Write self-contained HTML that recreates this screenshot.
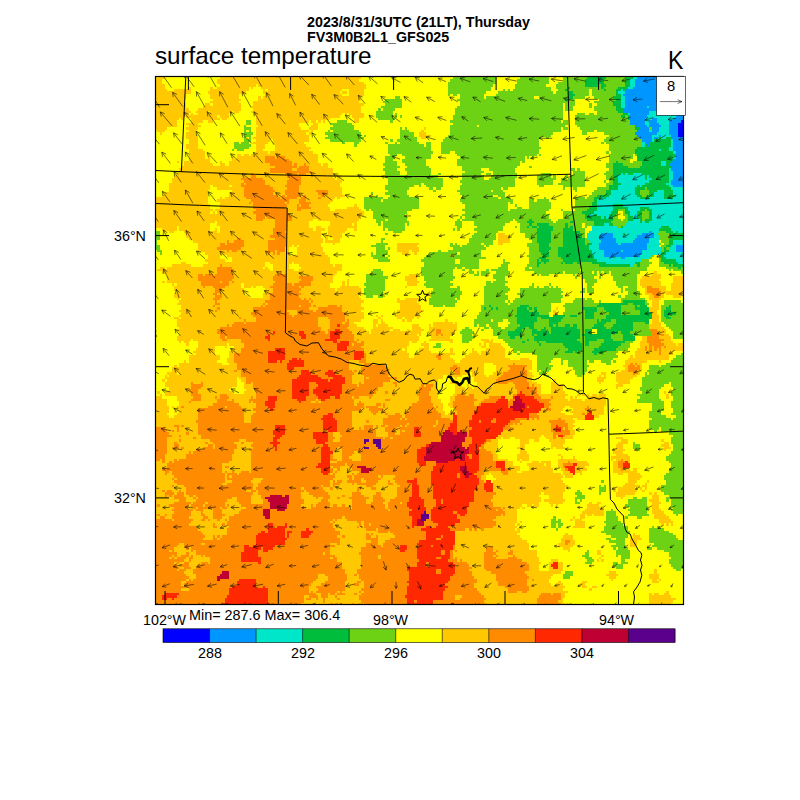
<!DOCTYPE html>
<html><head><meta charset="utf-8"><title>surface temperature</title>
<style>
html,body{margin:0;padding:0;background:#fff;}
body{width:800px;height:800px;position:relative;overflow:hidden;font-family:"Liberation Sans",sans-serif;color:#000;}
.t{position:absolute;white-space:nowrap;line-height:1;}
svg{position:absolute;left:0;top:0;}
</style></head><body>
<svg width="800" height="800" viewBox="0 0 800 800">
<g shape-rendering="crispEdges" fill="none" stroke-width="1"><rect x="155" y="76" width="529" height="529" fill="#ffff00"/>
<g transform="translate(155,77) scale(2.4)">
<rect x="0" y="0" width="220" height="220" fill="#ffff00"/>
<path d="M0 0.5h4M27 0.5h59M0 1.5h3M26 1.5h59M0 2.5h3M26 2.5h61M0 3.5h4M27 3.5h15M43 3.5h45M0 4.5h4M14 4.5h1M23 4.5h1M26 4.5h13M40 4.5h1M44 4.5h44M0 5.5h5M8 5.5h7M23 5.5h16M45 5.5h1M47 5.5h31M81 5.5h6M0 6.5h15M22 6.5h16M45 6.5h32M78 6.5h2M81 6.5h6M0 7.5h13M23 7.5h12M46 7.5h32M81 7.5h6M0 8.5h13M23 8.5h12M43 8.5h1M45 8.5h41M0 9.5h12M24 9.5h12M43 9.5h43M0 10.5h12M23 10.5h12M41 10.5h44M0 11.5h13M21 11.5h2M24 11.5h12M41 11.5h46M0 12.5h13M20 12.5h16M40 12.5h46M0 13.5h14M18 13.5h18M41 13.5h45M0 14.5h15M17 14.5h5M23 14.5h9M33 14.5h2M40 14.5h46M0 15.5h14M15 15.5h1M18 15.5h13M41 15.5h37M79 15.5h1M81 15.5h6M0 16.5h12M13 16.5h13M27 16.5h4M42 16.5h35M82 16.5h5M0 17.5h10M11 17.5h1M15 17.5h12M28 17.5h2M42 17.5h31M83 17.5h2M0 18.5h9M15 18.5h5M22 18.5h2M42 18.5h22M65 18.5h2M68 18.5h1M70 18.5h1M83 18.5h2M0 19.5h9M13 19.5h5M42 19.5h18M66 19.5h2M0 20.5h9M14 20.5h5M43 20.5h17M65 20.5h3M0 21.5h5M13 21.5h5M42 21.5h19M64 21.5h4M112 21.5h1M1 22.5h3M14 22.5h3M42 22.5h22M65 22.5h1M111 22.5h1M2 23.5h1M13 23.5h4M42 23.5h21M64 23.5h1M110 23.5h3M13 24.5h5M42 24.5h22M110 24.5h4M13 25.5h5M41 25.5h23M111 25.5h2M14 26.5h4M42 26.5h6M49 26.5h15M14 27.5h4M41 27.5h6M49 27.5h13M13 28.5h5M42 28.5h4M50 28.5h13M13 29.5h5M42 29.5h4M50 29.5h15M14 30.5h6M42 30.5h3M50 30.5h14M14 31.5h7M42 31.5h5M48 31.5h18M14 32.5h7M34 32.5h2M37 32.5h2M40 32.5h28M14 33.5h7M22 33.5h1M32 33.5h1M34 33.5h34M14 34.5h9M32 34.5h36M9 35.5h1M12 35.5h11M27 35.5h1M31 35.5h37M12 36.5h12M27 36.5h2M31 36.5h38M70 36.5h2M11 37.5h61M10 38.5h64M9 39.5h65M9 40.5h65M8 41.5h66M76 41.5h2M7 42.5h68M76 42.5h1M7 43.5h71M6 44.5h71M6 45.5h17M24 45.5h7M32 45.5h45M6 46.5h17M26 46.5h52M6 47.5h16M32 47.5h46M4 48.5h18M31 48.5h47M3 49.5h19M31 49.5h48M0 50.5h22M27 50.5h1M29 50.5h46M76 50.5h1M0 51.5h22M26 51.5h48M0 52.5h22M27 52.5h46M0 53.5h23M27 53.5h45M83 53.5h1M0 54.5h23M27 54.5h46M80 54.5h5M0 55.5h24M25 55.5h48M75 55.5h11M0 56.5h23M24 56.5h1M26 56.5h61M0 57.5h87M0 58.5h86M0 59.5h66M68 59.5h17M0 60.5h25M26 60.5h38M73 60.5h11M0 61.5h23M26 61.5h38M73 61.5h9M83 61.5h1M0 62.5h9M10 62.5h13M27 62.5h37M67 62.5h2M72 62.5h12M3 63.5h6M10 63.5h13M25 63.5h1M27 63.5h39M67 63.5h4M72 63.5h8M83 63.5h1M6 64.5h2M12 64.5h14M27 64.5h42M72 64.5h7M13 65.5h57M72 65.5h6M143 65.5h3M13 66.5h56M71 66.5h1M73 66.5h5M143 66.5h5M14 67.5h56M71 67.5h1M74 67.5h3M143 67.5h5M16 68.5h54M71 68.5h6M143 68.5h5M18 69.5h51M74 69.5h1M101 69.5h9M143 69.5h2M18 70.5h39M58 70.5h1M60 70.5h9M101 70.5h8M18 71.5h38M59 71.5h11M101 71.5h9M18 72.5h38M59 72.5h11M101 72.5h5M107 72.5h3M21 73.5h35M59 73.5h12M103 73.5h3M108 73.5h1M22 74.5h5M30 74.5h26M57 74.5h15M22 75.5h5M32 75.5h41M21 76.5h8M32 76.5h41M11 77.5h2M22 77.5h24M48 77.5h9M58 77.5h15M7 78.5h8M20 78.5h26M49 78.5h7M60 78.5h14M75 78.5h3M2 79.5h2M5 79.5h40M46 79.5h1M49 79.5h7M61 79.5h17M1 80.5h47M49 80.5h9M60 80.5h18M3 81.5h73M208 81.5h1M5 82.5h70M79 82.5h1M106 82.5h3M204 82.5h1M207 82.5h4M5 83.5h69M104 83.5h5M203 83.5h8M216 83.5h4M5 84.5h69M80 84.5h1M104 84.5h5M202 84.5h8M216 84.5h4M3 85.5h1M5 85.5h69M78 85.5h1M80 85.5h1M105 85.5h5M202 85.5h9M216 85.5h4M7 86.5h1M9 86.5h27M37 86.5h36M78 86.5h1M80 86.5h1M105 86.5h4M202 86.5h9M215 86.5h5M8 87.5h28M37 87.5h3M41 87.5h1M45 87.5h28M77 87.5h8M104 87.5h1M203 87.5h10M215 87.5h5M8 88.5h29M46 88.5h29M76 88.5h10M204 88.5h9M215 88.5h5M9 89.5h28M38 89.5h1M46 89.5h40M204 89.5h16M8 90.5h29M45 90.5h41M204 90.5h8M213 90.5h7M8 91.5h31M45 91.5h40M206 91.5h6M216 91.5h3M9 92.5h1M11 92.5h75M101 92.5h1M104 92.5h6M206 92.5h5M10 93.5h77M101 93.5h8M207 93.5h3M9 94.5h77M102 94.5h8M207 94.5h3M11 95.5h75M102 95.5h9M207 95.5h3M11 96.5h76M102 96.5h9M167 96.5h1M206 96.5h4M10 97.5h76M101 97.5h11M166 97.5h1M206 97.5h3M11 98.5h76M101 98.5h9M166 98.5h2M207 98.5h2M10 99.5h77M92 99.5h1M94 99.5h1M100 99.5h11M207 99.5h3M8 100.5h2M11 100.5h76M93 100.5h1M101 100.5h2M104 100.5h4M109 100.5h1M207 100.5h3M9 101.5h77M91 101.5h2M94 101.5h1M103 101.5h1M105 101.5h2M121 101.5h1M207 101.5h3M9 102.5h74M91 102.5h2M94 102.5h2M116 102.5h8M125 102.5h1M207 102.5h4M9 103.5h75M91 103.5h1M93 103.5h4M107 103.5h3M114 103.5h1M116 103.5h10M206 103.5h5M10 104.5h77M91 104.5h8M107 104.5h4M114 104.5h12M206 104.5h6M9 105.5h79M90 105.5h8M99 105.5h3M105 105.5h1M107 105.5h5M114 105.5h12M206 105.5h7M10 106.5h79M90 106.5h21M114 106.5h11M207 106.5h6M10 107.5h99M110 107.5h1M114 107.5h10M207 107.5h7M9 108.5h101M115 108.5h8M203 108.5h12M9 109.5h6M16 109.5h94M114 109.5h10M136 109.5h3M140 109.5h1M203 109.5h12M10 110.5h1M12 110.5h2M18 110.5h88M107 110.5h2M112 110.5h1M123 110.5h1M137 110.5h4M202 110.5h14M13 111.5h1M18 111.5h12M31 111.5h75M111 111.5h3M135 111.5h1M137 111.5h1M139 111.5h5M202 111.5h15M218 111.5h2M18 112.5h7M29 112.5h1M33 112.5h72M112 112.5h2M136 112.5h2M139 112.5h6M202 112.5h18M17 113.5h8M32 113.5h71M104 113.5h1M110 113.5h4M123 113.5h1M132 113.5h1M138 113.5h8M201 113.5h19M16 114.5h9M31 114.5h74M110 114.5h5M123 114.5h1M132 114.5h2M136 114.5h10M200 114.5h16M17 115.5h8M31 115.5h75M109 115.5h16M131 115.5h4M136 115.5h10M200 115.5h16M14 116.5h13M31 116.5h75M108 116.5h15M129 116.5h17M198 116.5h1M200 116.5h14M14 117.5h13M30 117.5h94M128 117.5h20M152 117.5h4M197 117.5h17M12 118.5h1M14 118.5h12M30 118.5h95M127 118.5h30M196 118.5h9M210 118.5h1M10 119.5h18M31 119.5h106M141 119.5h16M196 119.5h7M8 120.5h1M10 120.5h127M142 120.5h15M195 120.5h8M7 121.5h130M142 121.5h15M196 121.5h7M7 122.5h130M142 122.5h14M194 122.5h9M5 123.5h4M10 123.5h121M132 123.5h5M141 123.5h16M186 123.5h2M192 123.5h10M4 124.5h1M6 124.5h114M123 124.5h5M132 124.5h6M139 124.5h19M185 124.5h1M187 124.5h1M192 124.5h9M4 125.5h30M35 125.5h85M125 125.5h1M133 125.5h24M184 125.5h4M192 125.5h7M3 126.5h1M5 126.5h29M36 126.5h82M124 126.5h1M133 126.5h24M166 126.5h1M184 126.5h3M192 126.5h6M4 127.5h30M37 127.5h81M123 127.5h3M127 127.5h1M134 127.5h25M165 127.5h2M185 127.5h1M193 127.5h5M4 128.5h30M37 128.5h81M125 128.5h3M130 128.5h1M134 128.5h27M165 128.5h5M192 128.5h3M6 129.5h26M37 129.5h81M125 129.5h4M130 129.5h2M133 129.5h28M165 129.5h5M192 129.5h1M6 130.5h25M38 130.5h80M125 130.5h36M165 130.5h5M1 131.5h1M4 131.5h29M37 131.5h81M125 131.5h36M165 131.5h6M212 131.5h1M2 132.5h1M4 132.5h114M124 132.5h48M176 132.5h1M178 132.5h1M180 132.5h1M182 132.5h2M185 132.5h3M213 132.5h1M0 133.5h3M9 133.5h109M123 133.5h48M173 133.5h1M175 133.5h1M180 133.5h8M213 133.5h1M0 134.5h5M9 134.5h110M123 134.5h49M173 134.5h5M179 134.5h9M0 135.5h5M10 135.5h109M123 135.5h65M0 136.5h5M10 136.5h110M122 136.5h66M0 137.5h6M7 137.5h1M9 137.5h111M123 137.5h48M173 137.5h14M0 138.5h6M9 138.5h111M124 138.5h46M174 138.5h13M0 139.5h6M8 139.5h1M10 139.5h111M123 139.5h46M173 139.5h14M0 140.5h5M9 140.5h112M122 140.5h49M174 140.5h13M0 141.5h6M8 141.5h177M0 142.5h174M176 142.5h7M0 143.5h175M0 144.5h174M0 145.5h175M0 146.5h174M0 147.5h175M0 148.5h175M0 149.5h161M162 149.5h12M0 150.5h144M145 150.5h3M150 150.5h10M163 150.5h11M192 150.5h3M0 151.5h143M152 151.5h4M158 151.5h2M164 151.5h7M194 151.5h3M211 151.5h1M0 152.5h143M152 152.5h4M165 152.5h6M193 152.5h4M212 152.5h2M0 153.5h143M152 153.5h2M165 153.5h5M192 153.5h3M211 153.5h3M0 154.5h143M151 154.5h3M165 154.5h1M167 154.5h4M192 154.5h3M212 154.5h3M0 155.5h142M152 155.5h2M191 155.5h5M212 155.5h1M0 156.5h142M152 156.5h3M191 156.5h4M0 157.5h143M151 157.5h5M168 157.5h1M192 157.5h5M0 158.5h143M151 158.5h5M169 158.5h1M174 158.5h1M190 158.5h8M0 159.5h147M151 159.5h1M153 159.5h3M168 159.5h8M190 159.5h1M192 159.5h6M0 160.5h149M152 160.5h1M157 160.5h3M161 160.5h4M168 160.5h12M191 160.5h7M0 161.5h149M155 161.5h7M163 161.5h2M168 161.5h13M191 161.5h7M0 162.5h152M156 162.5h9M168 162.5h11M191 162.5h7M0 163.5h152M156 163.5h10M169 163.5h11M191 163.5h7M199 163.5h2M0 164.5h151M153 164.5h13M170 164.5h8M191 164.5h10M0 165.5h139M140 165.5h29M170 165.5h5M177 165.5h1M193 165.5h2M197 165.5h5M0 166.5h138M141 166.5h29M171 166.5h3M197 166.5h6M0 167.5h138M142 167.5h27M197 167.5h5M0 168.5h140M141 168.5h29M197 168.5h4M205 168.5h1M0 169.5h171M196 169.5h4M204 169.5h1M0 170.5h172M195 170.5h7M203 170.5h2M0 171.5h171M191 171.5h1M193 171.5h7M202 171.5h1M204 171.5h1M0 172.5h171M191 172.5h1M193 172.5h8M203 172.5h1M0 173.5h161M162 173.5h8M192 173.5h8M206 173.5h1M208 173.5h1M0 174.5h160M164 174.5h6M192 174.5h4M207 174.5h3M0 175.5h161M164 175.5h6M194 175.5h1M207 175.5h3M0 176.5h161M162 176.5h9M206 176.5h4M0 177.5h160M164 177.5h6M181 177.5h1M184 177.5h2M207 177.5h4M0 178.5h153M155 178.5h2M158 178.5h2M165 178.5h1M167 178.5h1M180 178.5h5M207 178.5h3M0 179.5h152M153 179.5h1M180 179.5h6M207 179.5h3M0 180.5h151M179 180.5h8M207 180.5h4M0 181.5h151M178 181.5h9M207 181.5h5M0 182.5h151M177 182.5h2M180 182.5h2M183 182.5h4M208 182.5h5M0 183.5h151M174 183.5h1M177 183.5h2M208 183.5h6M0 184.5h151M173 184.5h1M175 184.5h3M210 184.5h5M0 185.5h151M152 185.5h1M175 185.5h4M210 185.5h6M0 186.5h150M151 186.5h1M175 186.5h4M211 186.5h1M213 186.5h1M215 186.5h1M0 187.5h151M174 187.5h5M0 188.5h150M151 188.5h1M0 189.5h152M0 190.5h151M171 190.5h1M199 190.5h1M0 191.5h152M170 191.5h4M199 191.5h3M0 192.5h153M169 192.5h5M198 192.5h5M0 193.5h155M169 193.5h6M198 193.5h3M0 194.5h156M168 194.5h7M198 194.5h3M0 195.5h156M168 195.5h6M198 195.5h2M0 196.5h156M170 196.5h3M0 197.5h159M172 197.5h1M184 197.5h2M0 198.5h159M184 198.5h2M0 199.5h159M186 199.5h1M0 200.5h160M185 200.5h1M0 201.5h160M165 201.5h3M184 201.5h1M186 201.5h1M0 202.5h161M164 202.5h6M0 203.5h160M164 203.5h6M0 204.5h160M164 204.5h6M0 205.5h160M164 205.5h6M208 205.5h1M0 206.5h169M189 206.5h3M208 206.5h1M0 207.5h166M188 207.5h5M206 207.5h4M0 208.5h165M189 208.5h3M206 208.5h4M0 209.5h164M190 209.5h1M207 209.5h2M210 209.5h1M0 210.5h164M168 210.5h1M178 210.5h2M207 210.5h3M0 211.5h165M167 211.5h3M177 211.5h2M0 212.5h171M178 212.5h2M182 212.5h2M0 213.5h170M181 213.5h1M0 214.5h172M213 214.5h1M0 215.5h171M206 215.5h1M208 215.5h2M212 215.5h2M0 216.5h171M206 216.5h9M0 217.5h170M206 217.5h11M0 218.5h170M206 218.5h10M0 219.5h171M206 219.5h9" stroke="#ffc800"/>
<path d="M51 32.5h1M46 33.5h4M51 33.5h3M46 34.5h10M46 35.5h11M48 36.5h9M58 36.5h1M62 36.5h1M50 37.5h9M60 37.5h4M48 38.5h9M59 38.5h5M48 39.5h17M40 40.5h1M54 40.5h5M60 40.5h3M40 41.5h2M55 41.5h6M36 42.5h9M56 42.5h5M37 43.5h9M55 43.5h6M36 44.5h1M38 44.5h8M55 44.5h6M36 45.5h12M54 45.5h6M37 46.5h12M55 46.5h5M37 47.5h13M54 47.5h6M67 47.5h5M37 48.5h12M54 48.5h6M68 48.5h4M37 49.5h14M53 49.5h1M55 49.5h6M62 49.5h1M69 49.5h1M38 50.5h14M53 50.5h6M61 50.5h2M68 50.5h1M40 51.5h16M60 51.5h3M39 52.5h1M41 52.5h13M55 52.5h1M60 52.5h5M41 53.5h14M59 53.5h1M61 53.5h3M41 54.5h13M59 54.5h6M42 55.5h13M59 55.5h2M41 56.5h14M42 57.5h14M42 58.5h4M47 58.5h10M42 59.5h3M50 59.5h7M50 60.5h5M50 61.5h5M50 62.5h5M49 63.5h6M49 64.5h5M49 65.5h6M48 66.5h7M34 67.5h2M50 67.5h5M30 68.5h1M33 68.5h4M47 68.5h8M27 69.5h2M30 69.5h7M47 69.5h8M27 70.5h10M47 70.5h8M26 71.5h10M47 71.5h7M30 72.5h1M32 72.5h2M47 72.5h3M51 72.5h3M47 73.5h1M49 73.5h1M51 73.5h1M27 78.5h1M26 79.5h6M26 80.5h7M26 81.5h6M52 81.5h1M18 82.5h2M21 82.5h3M25 82.5h8M50 82.5h5M18 83.5h15M49 83.5h6M60 83.5h6M18 84.5h14M49 84.5h6M61 84.5h5M19 85.5h8M28 85.5h3M32 85.5h1M50 85.5h5M60 85.5h5M19 86.5h12M49 86.5h8M58 86.5h7M20 87.5h1M24 87.5h5M48 87.5h12M61 87.5h1M205 87.5h2M25 88.5h3M49 88.5h12M205 88.5h5M25 89.5h2M49 89.5h11M205 89.5h6M24 90.5h2M27 90.5h1M48 90.5h13M207 90.5h4M25 91.5h3M48 91.5h12M208 91.5h2M24 92.5h3M48 92.5h13M62 92.5h1M64 92.5h1M25 93.5h1M46 93.5h18M65 93.5h1M25 94.5h2M45 94.5h1M47 94.5h18M24 95.5h1M44 95.5h1M46 95.5h14M61 95.5h4M66 95.5h1M72 95.5h4M77 95.5h1M26 96.5h1M41 96.5h23M68 96.5h10M25 97.5h1M41 97.5h14M59 97.5h7M67 97.5h11M40 98.5h16M59 98.5h20M41 99.5h16M58 99.5h21M35 100.5h1M42 100.5h26M72 100.5h7M37 101.5h1M42 101.5h26M73 101.5h6M80 101.5h1M33 102.5h4M38 102.5h30M73 102.5h5M79 102.5h2M30 103.5h1M32 103.5h36M73 103.5h8M27 104.5h42M73 104.5h7M26 105.5h43M72 105.5h9M117 105.5h2M206 105.5h3M26 106.5h45M72 106.5h10M117 106.5h2M207 106.5h3M27 107.5h56M117 107.5h1M119 107.5h1M207 107.5h3M211 107.5h1M27 108.5h2M30 108.5h53M205 108.5h5M28 109.5h2M36 109.5h47M84 109.5h1M205 109.5h7M36 110.5h48M86 110.5h1M205 110.5h6M37 111.5h45M83 111.5h4M206 111.5h6M37 112.5h49M204 112.5h1M206 112.5h1M208 112.5h3M212 112.5h1M36 113.5h51M204 113.5h1M206 113.5h1M208 113.5h1M210 113.5h1M36 114.5h51M210 114.5h1M33 115.5h55M210 115.5h1M33 116.5h55M117 116.5h2M33 117.5h55M118 117.5h1M33 118.5h48M85 118.5h3M34 119.5h47M87 119.5h4M149 119.5h1M198 119.5h1M200 119.5h1M34 120.5h47M87 120.5h9M124 120.5h2M147 120.5h8M197 120.5h3M201 120.5h1M34 121.5h47M86 121.5h11M123 121.5h4M148 121.5h6M197 121.5h5M33 122.5h1M36 122.5h46M83 122.5h1M86 122.5h11M124 122.5h3M147 122.5h8M197 122.5h4M36 123.5h47M86 123.5h12M125 123.5h2M145 123.5h10M199 123.5h1M36 124.5h46M87 124.5h10M144 124.5h11M38 125.5h44M87 125.5h1M89 125.5h12M143 125.5h12M38 126.5h44M87 126.5h11M142 126.5h13M15 127.5h1M19 127.5h1M38 127.5h2M41 127.5h41M85 127.5h1M87 127.5h8M99 127.5h2M143 127.5h4M149 127.5h7M15 128.5h5M41 128.5h43M85 128.5h10M100 128.5h1M111 128.5h1M113 128.5h3M150 128.5h6M157 128.5h1M15 129.5h4M41 129.5h52M110 129.5h5M150 129.5h9M14 130.5h4M42 130.5h51M110 130.5h5M151 130.5h8M15 131.5h3M42 131.5h50M96 131.5h1M110 131.5h4M151 131.5h8M15 132.5h4M27 132.5h3M42 132.5h49M99 132.5h1M109 132.5h5M126 132.5h3M131 132.5h2M149 132.5h11M16 133.5h3M25 133.5h1M27 133.5h4M40 133.5h1M42 133.5h40M83 133.5h2M89 133.5h1M110 133.5h5M125 133.5h8M139 133.5h7M149 133.5h12M165 133.5h1M15 134.5h4M26 134.5h4M32 134.5h1M39 134.5h28M68 134.5h15M96 134.5h2M110 134.5h5M125 134.5h9M137 134.5h10M148 134.5h17M14 135.5h1M26 135.5h7M39 135.5h1M41 135.5h24M67 135.5h1M69 135.5h14M85 135.5h1M109 135.5h6M124 135.5h9M136 135.5h28M24 136.5h11M42 136.5h41M84 136.5h3M92 136.5h2M95 136.5h1M107 136.5h9M124 136.5h9M135 136.5h30M11 137.5h1M22 137.5h7M30 137.5h6M42 137.5h45M88 137.5h5M95 137.5h1M106 137.5h10M117 137.5h1M124 137.5h40M180 137.5h1M18 138.5h19M41 138.5h45M89 138.5h6M106 138.5h11M125 138.5h36M163 138.5h2M179 138.5h2M18 139.5h19M42 139.5h40M90 139.5h3M95 139.5h1M105 139.5h13M126 139.5h34M180 139.5h2M18 140.5h19M41 140.5h41M91 140.5h1M96 140.5h1M100 140.5h2M104 140.5h15M124 140.5h1M126 140.5h33M178 140.5h1M180 140.5h2M18 141.5h19M40 141.5h42M97 141.5h6M104 141.5h15M124 141.5h36M179 141.5h4M18 142.5h19M40 142.5h42M95 142.5h7M103 142.5h1M105 142.5h18M124 142.5h32M157 142.5h1M159 142.5h1M168 142.5h1M179 142.5h4M17 143.5h20M40 143.5h42M88 143.5h1M95 143.5h22M118 143.5h34M164 143.5h7M18 144.5h64M95 144.5h10M106 144.5h11M118 144.5h31M150 144.5h1M152 144.5h1M165 144.5h7M8 145.5h2M11 145.5h1M18 145.5h64M87 145.5h4M92 145.5h1M94 145.5h2M97 145.5h5M103 145.5h1M105 145.5h11M117 145.5h31M165 145.5h7M0 146.5h4M9 146.5h1M18 146.5h65M85 146.5h1M87 146.5h4M96 146.5h5M102 146.5h47M165 146.5h5M171 146.5h1M0 147.5h5M7 147.5h1M9 147.5h1M18 147.5h74M96 147.5h4M102 147.5h1M104 147.5h41M165 147.5h8M0 148.5h6M13 148.5h1M18 148.5h56M77 148.5h15M97 148.5h3M102 148.5h42M166 148.5h7M0 149.5h7M10 149.5h1M19 149.5h55M78 149.5h14M97 149.5h46M166 149.5h1M168 149.5h3M0 150.5h5M16 150.5h1M19 150.5h56M77 150.5h18M96 150.5h2M99 150.5h43M166 150.5h1M169 150.5h1M0 151.5h5M10 151.5h1M23 151.5h12M38 151.5h36M77 151.5h63M0 152.5h5M8 152.5h1M21 152.5h1M24 152.5h9M36 152.5h1M41 152.5h97M0 153.5h5M8 153.5h2M22 153.5h2M25 153.5h9M40 153.5h97M0 154.5h5M7 154.5h3M11 154.5h1M20 154.5h4M25 154.5h9M36 154.5h1M41 154.5h35M77 154.5h58M136 154.5h1M0 155.5h5M17 155.5h16M39 155.5h36M78 155.5h60M0 156.5h5M14 156.5h1M16 156.5h17M40 156.5h34M78 156.5h5M85 156.5h55M0 157.5h4M13 157.5h19M40 157.5h34M78 157.5h4M86 157.5h55M0 158.5h4M13 158.5h19M40 158.5h34M78 158.5h3M86 158.5h55M0 159.5h2M3 159.5h1M8 159.5h1M10 159.5h22M40 159.5h36M78 159.5h4M86 159.5h55M194 159.5h1M3 160.5h1M6 160.5h1M8 160.5h23M40 160.5h33M76 160.5h70M172 160.5h1M193 160.5h4M5 161.5h23M40 161.5h39M80 161.5h66M170 161.5h6M193 161.5h5M5 162.5h23M29 162.5h2M40 162.5h33M74 162.5h3M81 162.5h65M170 162.5h5M193 162.5h5M3 163.5h25M40 163.5h34M76 163.5h1M82 163.5h56M139 163.5h9M171 163.5h4M194 163.5h1M4 164.5h2M7 164.5h21M29 164.5h1M32 164.5h1M36 164.5h3M40 164.5h34M75 164.5h1M85 164.5h52M144 164.5h3M173 164.5h2M4 165.5h1M7 165.5h22M30 165.5h4M35 165.5h38M74 165.5h1M82 165.5h1M84 165.5h53M145 165.5h2M174 165.5h1M8 166.5h21M30 166.5h1M32 166.5h43M80 166.5h2M83 166.5h10M94 166.5h1M100 166.5h36M7 167.5h1M9 167.5h20M30 167.5h11M45 167.5h29M81 167.5h1M83 167.5h3M87 167.5h7M99 167.5h37M8 168.5h21M32 168.5h8M44 168.5h29M74 168.5h1M76 168.5h2M80 168.5h6M88 168.5h5M97 168.5h1M100 168.5h37M138 168.5h2M9 169.5h19M30 169.5h11M43 169.5h30M74 169.5h3M82 169.5h1M84 169.5h8M97 169.5h2M101 169.5h40M7 170.5h1M12 170.5h29M43 170.5h26M70 170.5h3M74 170.5h1M88 170.5h3M102 170.5h39M13 171.5h28M42 171.5h19M62 171.5h8M73 171.5h1M84 171.5h2M90 171.5h2M101 171.5h40M3 172.5h1M5 172.5h2M10 172.5h1M13 172.5h25M40 172.5h2M43 172.5h19M63 172.5h8M84 172.5h1M101 172.5h40M4 173.5h4M9 173.5h3M13 173.5h28M43 173.5h18M64 173.5h8M82 173.5h4M92 173.5h2M101 173.5h41M4 174.5h1M6 174.5h1M8 174.5h4M14 174.5h2M17 174.5h23M44 174.5h17M66 174.5h7M78 174.5h1M82 174.5h5M91 174.5h3M101 174.5h40M8 175.5h5M16 175.5h1M18 175.5h14M34 175.5h6M44 175.5h17M67 175.5h1M70 175.5h3M76 175.5h1M81 175.5h8M91 175.5h4M100 175.5h41M10 176.5h3M17 176.5h13M34 176.5h6M45 176.5h17M69 176.5h3M82 176.5h6M91 176.5h5M98 176.5h42M8 177.5h7M16 177.5h5M22 177.5h7M35 177.5h5M45 177.5h17M68 177.5h5M82 177.5h6M90 177.5h5M97 177.5h5M103 177.5h38M1 178.5h1M6 178.5h8M15 178.5h5M21 178.5h8M30 178.5h1M36 178.5h25M65 178.5h1M67 178.5h6M74 178.5h2M78 178.5h1M82 178.5h14M97 178.5h44M8 179.5h5M16 179.5h1M18 179.5h9M28 179.5h2M38 179.5h25M65 179.5h16M82 179.5h14M97 179.5h47M145 179.5h1M7 180.5h9M17 180.5h3M24 180.5h4M36 180.5h61M98 180.5h44M143 180.5h2M8 181.5h7M19 181.5h1M24 181.5h4M35 181.5h111M1 182.5h1M4 182.5h1M7 182.5h8M19 182.5h2M24 182.5h5M33 182.5h111M145 182.5h1M2 183.5h2M7 183.5h7M20 183.5h2M24 183.5h4M31 183.5h47M79 183.5h63M0 184.5h7M8 184.5h8M19 184.5h2M22 184.5h1M26 184.5h1M29 184.5h1M31 184.5h43M75 184.5h1M80 184.5h61M0 185.5h15M30 185.5h43M74 185.5h1M84 185.5h2M87 185.5h55M0 186.5h14M24 186.5h1M28 186.5h1M30 186.5h44M85 186.5h1M87 186.5h2M90 186.5h52M0 187.5h17M24 187.5h2M31 187.5h43M84 187.5h1M87 187.5h54M0 188.5h18M30 188.5h45M88 188.5h4M93 188.5h36M131 188.5h1M133 188.5h1M136 188.5h1M0 189.5h19M30 189.5h47M93 189.5h4M98 189.5h27M0 190.5h20M30 190.5h47M88 190.5h1M90 190.5h1M99 190.5h26M0 191.5h21M24 191.5h1M26 191.5h1M28 191.5h48M78 191.5h1M88 191.5h2M92 191.5h1M100 191.5h25M0 192.5h20M24 192.5h2M27 192.5h50M88 192.5h5M98 192.5h27M0 193.5h77M90 193.5h3M96 193.5h29M171 193.5h2M0 194.5h10M12 194.5h7M21 194.5h52M76 194.5h1M88 194.5h5M95 194.5h30M171 194.5h1M0 195.5h9M12 195.5h63M88 195.5h6M95 195.5h30M0 196.5h8M13 196.5h1M15 196.5h58M86 196.5h39M138 196.5h3M0 197.5h6M7 197.5h1M15 197.5h1M17 197.5h56M86 197.5h38M125 197.5h1M138 197.5h3M142 197.5h1M148 197.5h1M0 198.5h9M13 198.5h1M17 198.5h53M71 198.5h2M85 198.5h39M137 198.5h5M147 198.5h2M0 199.5h7M8 199.5h1M11 199.5h3M15 199.5h1M19 199.5h1M21 199.5h54M86 199.5h7M94 199.5h30M137 199.5h4M142 199.5h1M149 199.5h1M0 200.5h6M7 200.5h1M9 200.5h4M14 200.5h2M23 200.5h50M74 200.5h2M86 200.5h7M94 200.5h30M125 200.5h1M137 200.5h5M147 200.5h4M0 201.5h12M14 201.5h1M23 201.5h53M86 201.5h40M127 201.5h1M137 201.5h16M0 202.5h8M9 202.5h1M12 202.5h2M19 202.5h3M23 202.5h55M86 202.5h44M137 202.5h18M166 202.5h2M0 203.5h9M10 203.5h4M18 203.5h60M86 203.5h45M137 203.5h19M165 203.5h3M0 204.5h10M12 204.5h3M17 204.5h61M86 204.5h46M137 204.5h19M166 204.5h2M0 205.5h9M10 205.5h3M16 205.5h63M84 205.5h47M138 205.5h18M0 206.5h12M16 206.5h63M84 206.5h48M140 206.5h14M0 207.5h13M17 207.5h51M71 207.5h9M83 207.5h1M85 207.5h47M142 207.5h13M0 208.5h14M17 208.5h51M72 208.5h8M85 208.5h48M142 208.5h14M0 209.5h13M14 209.5h1M16 209.5h51M72 209.5h8M86 209.5h48M142 209.5h13M157 209.5h1M0 210.5h11M13 210.5h53M71 210.5h8M84 210.5h2M87 210.5h47M143 210.5h12M0 211.5h11M12 211.5h53M69 211.5h10M83 211.5h2M87 211.5h46M143 211.5h12M0 212.5h64M67 212.5h12M87 212.5h46M146 212.5h10M0 213.5h11M14 213.5h50M68 213.5h11M86 213.5h48M147 213.5h9M0 214.5h64M65 214.5h1M67 214.5h9M77 214.5h1M85 214.5h1M87 214.5h48M147 214.5h4M153 214.5h2M0 215.5h67M69 215.5h3M73 215.5h2M76 215.5h3M83 215.5h1M86 215.5h50M161 215.5h4M166 215.5h3M0 216.5h62M64 216.5h4M69 216.5h3M75 216.5h1M85 216.5h40M128 216.5h9M160 216.5h9M0 217.5h62M63 217.5h2M67 217.5h1M70 217.5h1M76 217.5h1M85 217.5h40M127 217.5h11M159 217.5h10M0 218.5h62M70 218.5h1M86 218.5h51M159 218.5h9M0 219.5h61M66 219.5h1M73 219.5h1M75 219.5h1M82 219.5h1M85 219.5h1M87 219.5h51M159 219.5h10" stroke="#ff8c00"/>
<path d="M76 103.5h1M75 105.5h2M49 106.5h1M60 106.5h2M73 106.5h5M47 107.5h1M60 107.5h3M73 107.5h4M46 108.5h2M61 108.5h2M73 108.5h4M47 109.5h1M71 109.5h5M74 110.5h2M77 110.5h4M76 111.5h5M76 112.5h4M50 113.5h4M76 113.5h4M47 114.5h7M83 114.5h4M47 115.5h7M83 115.5h4M47 116.5h7M83 116.5h4M47 117.5h7M57 117.5h2M60 117.5h1M83 117.5h3M47 118.5h4M52 118.5h1M56 118.5h6M55 119.5h7M55 120.5h7M55 121.5h3M61 122.5h3M72 122.5h2M61 123.5h4M71 123.5h4M60 124.5h8M72 124.5h6M59 125.5h10M74 125.5h5M57 126.5h15M73 126.5h6M57 127.5h7M67 127.5h12M57 128.5h7M68 128.5h10M57 129.5h7M67 129.5h11M155 129.5h1M57 130.5h7M66 130.5h12M57 131.5h7M66 131.5h12M152 131.5h1M57 132.5h7M67 132.5h10M151 132.5h3M47 133.5h4M57 133.5h6M68 133.5h5M75 133.5h2M144 133.5h2M149 133.5h9M47 134.5h4M59 134.5h4M69 134.5h2M143 134.5h4M150 134.5h9M46 135.5h4M60 135.5h1M142 135.5h5M149 135.5h11M46 136.5h4M136 136.5h11M149 136.5h13M47 137.5h3M134 137.5h13M148 137.5h7M156 137.5h6M48 138.5h1M134 138.5h27M133 139.5h27M181 139.5h1M72 140.5h2M124 140.5h1M133 140.5h23M180 140.5h2M70 141.5h4M124 141.5h2M132 141.5h24M179 141.5h4M69 142.5h6M124 142.5h2M132 142.5h9M142 142.5h8M155 142.5h1M179 142.5h4M70 143.5h6M124 143.5h2M131 143.5h4M136 143.5h4M142 143.5h6M70 144.5h6M123 144.5h3M131 144.5h16M50 145.5h4M70 145.5h6M123 145.5h3M131 145.5h15M167 145.5h1M50 146.5h4M70 146.5h6M108 146.5h2M122 146.5h4M132 146.5h13M167 146.5h2M49 147.5h5M72 147.5h4M108 147.5h2M121 147.5h5M127 147.5h1M131 147.5h14M167 147.5h2M49 148.5h5M66 148.5h6M108 148.5h3M120 148.5h10M131 148.5h13M50 149.5h3M66 149.5h6M108 149.5h3M119 149.5h11M131 149.5h12M168 149.5h2M49 150.5h3M66 150.5h6M119 150.5h10M132 150.5h10M49 151.5h2M67 151.5h5M87 151.5h2M91 151.5h3M119 151.5h10M132 151.5h6M48 152.5h4M67 152.5h4M87 152.5h1M91 152.5h3M115 152.5h13M132 152.5h5M49 153.5h2M70 153.5h2M92 153.5h2M113 153.5h15M131 153.5h5M50 154.5h1M69 154.5h4M87 154.5h2M93 154.5h1M111 154.5h18M130 154.5h5M50 155.5h1M69 155.5h4M109 155.5h26M69 156.5h5M109 156.5h26M69 157.5h4M109 157.5h21M132 157.5h3M69 158.5h4M109 158.5h22M132 158.5h3M69 159.5h4M109 159.5h26M69 160.5h4M109 160.5h4M117 160.5h18M142 160.5h4M196 160.5h1M68 161.5h5M110 161.5h3M117 161.5h18M142 161.5h4M174 161.5h2M195 161.5h3M67 162.5h6M84 162.5h4M116 162.5h19M142 162.5h4M171 162.5h4M195 162.5h3M69 163.5h4M86 163.5h4M116 163.5h19M144 163.5h2M172 163.5h3M69 164.5h4M86 164.5h3M115 164.5h19M173 164.5h2M70 165.5h2M115 165.5h11M127 165.5h6M174 165.5h1M115 166.5h11M127 166.5h7M108 167.5h1M115 167.5h20M105 168.5h4M115 168.5h20M138 168.5h2M107 169.5h2M115 169.5h20M137 169.5h4M107 170.5h3M116 170.5h18M137 170.5h4M107 171.5h3M116 171.5h18M137 171.5h4M107 172.5h3M116 172.5h17M138 172.5h3M107 173.5h3M116 173.5h17M48 174.5h5M54 174.5h2M107 174.5h3M116 174.5h17M46 175.5h10M106 175.5h5M116 175.5h17M47 176.5h9M106 176.5h6M117 176.5h2M120 176.5h13M48 177.5h8M105 177.5h7M117 177.5h2M120 177.5h11M48 178.5h7M105 178.5h7M117 178.5h14M48 179.5h7M106 179.5h7M116 179.5h14M45 180.5h3M51 180.5h3M107 180.5h6M115 180.5h15M45 181.5h3M106 181.5h7M115 181.5h9M126 181.5h4M45 182.5h3M106 182.5h8M115 182.5h11M127 182.5h2M46 183.5h2M107 183.5h7M115 183.5h11M107 184.5h6M115 184.5h12M107 185.5h5M116 185.5h11M47 186.5h2M54 186.5h1M107 186.5h5M118 186.5h7M47 187.5h2M51 187.5h4M107 187.5h1M113 187.5h2M117 187.5h5M47 188.5h7M63 188.5h1M111 188.5h12M44 189.5h2M47 189.5h7M55 189.5h2M61 189.5h5M113 189.5h12M43 190.5h11M55 190.5h1M61 190.5h4M113 190.5h12M42 191.5h12M55 191.5h1M61 191.5h3M113 191.5h6M120 191.5h5M42 192.5h13M113 192.5h4M119 192.5h6M42 193.5h12M110 193.5h15M42 194.5h12M109 194.5h16M37 195.5h2M41 195.5h9M102 195.5h3M110 195.5h5M116 195.5h8M37 196.5h7M45 196.5h4M102 196.5h3M109 196.5h15M37 197.5h6M45 197.5h2M102 197.5h2M109 197.5h10M121 197.5h2M36 198.5h7M109 198.5h10M121 198.5h2M36 199.5h7M109 199.5h14M36 200.5h8M109 200.5h8M119 200.5h4M36 201.5h8M110 201.5h12M43 202.5h1M109 202.5h4M114 202.5h10M166 202.5h2M109 203.5h4M114 203.5h11M165 203.5h3M105 204.5h20M166 204.5h2M105 205.5h12M119 205.5h6M28 206.5h3M106 206.5h11M119 206.5h6M27 207.5h4M106 207.5h18M26 208.5h5M106 208.5h17M26 209.5h1M35 209.5h7M106 209.5h17M34 210.5h8M105 210.5h17M34 211.5h8M106 211.5h15M32 212.5h10M45 212.5h1M105 212.5h17M31 213.5h16M105 213.5h16M31 214.5h16M105 214.5h15M4 215.5h6M31 215.5h16M105 215.5h15M3 216.5h6M30 216.5h17M104 216.5h16M3 217.5h2M7 217.5h1M29 217.5h18M105 217.5h15M29 218.5h18M105 218.5h3M109 218.5h7M28 219.5h20M105 219.5h11" stroke="#ff2800"/>
<path d="M150 133.5h2M150 134.5h3M149 135.5h4M149 136.5h5M148 137.5h6M149 138.5h4M121 147.5h2M127 147.5h1M120 148.5h4M126 148.5h4M119 149.5h11M119 150.5h10M87 151.5h2M91 151.5h3M119 151.5h10M87 152.5h1M91 152.5h3M115 152.5h13M92 153.5h2M114 153.5h14M87 154.5h2M93 154.5h1M113 154.5h16M130 154.5h1M113 155.5h18M113 156.5h18M113 157.5h16M112 158.5h17M112 159.5h13M127 159.5h2M117 160.5h5M84 162.5h4M127 162.5h3M86 163.5h4M127 163.5h3M86 164.5h3M128 164.5h3M129 165.5h3M129 166.5h2M48 174.5h5M54 174.5h2M46 175.5h10M47 176.5h9M48 177.5h8M48 178.5h7M48 179.5h7M45 180.5h3M51 180.5h3M45 181.5h3M112 181.5h1M45 182.5h3M111 182.5h3M46 183.5h2M111 183.5h3M109 184.5h4M109 185.5h3M109 186.5h3M28 206.5h3M27 207.5h4M26 208.5h5M26 209.5h1" stroke="#be0032"/>
<path d="M87 151.5h2M91 151.5h3M87 152.5h1M91 152.5h3M92 153.5h2M87 154.5h2M93 154.5h1M112 181.5h1M111 182.5h3M111 183.5h3M111 184.5h2" stroke="#5a008c"/>
<path d="M124 0.5h18M152 0.5h12M170 0.5h50M123 1.5h19M151 1.5h13M170 1.5h50M122 2.5h20M151 2.5h13M168 2.5h52M122 3.5h19M150 3.5h13M167 3.5h53M122 4.5h18M150 4.5h15M167 4.5h53M122 5.5h18M145 5.5h1M147 5.5h1M149 5.5h16M168 5.5h13M182 5.5h38M122 6.5h16M143 6.5h23M167 6.5h14M182 6.5h38M122 7.5h1M124 7.5h2M127 7.5h10M142 7.5h39M182 7.5h38M100 8.5h2M127 8.5h10M138 8.5h20M160 8.5h19M183 8.5h37M96 9.5h7M126 9.5h49M185 9.5h35M95 10.5h8M127 10.5h48M183 10.5h37M96 11.5h7M127 11.5h43M171 11.5h4M181 11.5h1M184 11.5h36M94 12.5h9M126 12.5h44M171 12.5h3M181 12.5h1M183 12.5h37M93 13.5h1M95 13.5h5M125 13.5h45M171 13.5h3M183 13.5h37M92 14.5h7M125 14.5h45M184 14.5h36M92 15.5h7M100 15.5h1M125 15.5h45M176 15.5h3M181 15.5h2M184 15.5h36M92 16.5h7M100 16.5h1M102 16.5h1M124 16.5h46M175 16.5h45M93 17.5h7M124 17.5h46M175 17.5h45M38 18.5h2M76 18.5h4M98 18.5h1M123 18.5h46M170 18.5h2M175 18.5h45M38 19.5h2M73 19.5h9M124 19.5h48M175 19.5h45M37 20.5h1M74 20.5h9M123 20.5h11M135 20.5h36M176 20.5h44M37 21.5h3M73 21.5h10M102 21.5h1M104 21.5h1M123 21.5h46M170 21.5h2M177 21.5h43M37 22.5h1M39 22.5h1M72 22.5h1M74 22.5h11M102 22.5h4M123 22.5h46M178 22.5h5M184 22.5h36M37 23.5h4M71 23.5h15M102 23.5h6M123 23.5h43M178 23.5h2M187 23.5h33M37 24.5h3M72 24.5h14M87 24.5h1M102 24.5h6M122 24.5h43M189 24.5h31M37 25.5h1M39 25.5h1M71 25.5h16M102 25.5h7M121 25.5h40M163 25.5h1M188 25.5h32M37 26.5h3M73 26.5h13M98 26.5h1M101 26.5h8M120 26.5h40M187 26.5h33M33 27.5h2M36 27.5h3M78 27.5h1M83 27.5h2M96 27.5h1M100 27.5h1M102 27.5h8M113 27.5h2M119 27.5h41M186 27.5h1M188 27.5h32M33 28.5h7M83 28.5h1M97 28.5h15M113 28.5h2M119 28.5h41M189 28.5h31M33 29.5h6M97 29.5h18M119 29.5h42M189 29.5h31M32 30.5h1M34 30.5h3M97 30.5h18M119 30.5h41M189 30.5h31M97 31.5h19M119 31.5h4M125 31.5h35M188 31.5h1M190 31.5h30M98 32.5h3M103 32.5h12M126 32.5h33M160 32.5h1M189 32.5h10M200 32.5h20M96 33.5h4M104 33.5h11M127 33.5h27M155 33.5h1M157 33.5h1M189 33.5h10M201 33.5h19M96 34.5h3M103 34.5h10M126 34.5h28M189 34.5h9M201 34.5h19M96 35.5h5M103 35.5h10M126 35.5h26M153 35.5h1M189 35.5h9M199 35.5h21M95 36.5h6M104 36.5h9M126 36.5h26M188 36.5h32M96 37.5h6M105 37.5h9M128 37.5h23M156 37.5h1M188 37.5h32M95 38.5h6M104 38.5h11M128 38.5h8M139 38.5h11M173 38.5h2M176 38.5h1M189 38.5h31M96 39.5h6M105 39.5h10M129 39.5h8M141 39.5h9M174 39.5h5M188 39.5h32M96 40.5h6M105 40.5h10M118 40.5h1M128 40.5h8M138 40.5h2M141 40.5h10M161 40.5h4M174 40.5h5M187 40.5h33M96 41.5h22M128 41.5h9M140 41.5h11M159 41.5h6M166 41.5h1M171 41.5h1M173 41.5h6M188 41.5h32M97 42.5h23M128 42.5h9M139 42.5h11M159 42.5h8M169 42.5h2M172 42.5h7M188 42.5h32M97 43.5h23M127 43.5h23M159 43.5h7M169 43.5h10M187 43.5h1M189 43.5h31M97 44.5h14M112 44.5h8M128 44.5h22M159 44.5h7M168 44.5h11M188 44.5h32M96 45.5h12M110 45.5h1M113 45.5h7M127 45.5h23M160 45.5h2M170 45.5h9M188 45.5h32M96 46.5h10M114 46.5h2M117 46.5h2M127 46.5h17M145 46.5h2M170 46.5h1M174 46.5h2M184 46.5h36M97 47.5h8M116 47.5h1M126 47.5h14M141 47.5h4M175 47.5h1M183 47.5h37M90 48.5h1M96 48.5h9M127 48.5h19M182 48.5h38M92 49.5h1M98 49.5h8M128 49.5h13M143 49.5h3M181 49.5h39M87 50.5h8M97 50.5h13M128 50.5h15M144 50.5h4M162 50.5h1M175 50.5h4M180 50.5h40M87 51.5h7M95 51.5h15M127 51.5h22M156 51.5h2M159 51.5h5M175 51.5h45M87 52.5h23M128 52.5h19M148 52.5h1M156 52.5h9M175 52.5h45M87 53.5h23M129 53.5h18M150 53.5h1M156 53.5h9M175 53.5h45M87 54.5h23M129 54.5h18M151 54.5h2M156 54.5h9M174 54.5h46M88 55.5h1M90 55.5h17M128 55.5h19M148 55.5h16M169 55.5h1M175 55.5h45M91 56.5h14M129 56.5h34M170 56.5h23M195 56.5h25M91 57.5h13M128 57.5h36M170 57.5h23M195 57.5h25M91 58.5h14M127 58.5h1M129 58.5h35M170 58.5h23M196 58.5h24M92 59.5h4M97 59.5h8M126 59.5h1M128 59.5h21M150 59.5h15M168 59.5h26M195 59.5h25M92 60.5h2M95 60.5h11M125 60.5h3M133 60.5h15M151 60.5h15M167 60.5h53M93 61.5h1M95 61.5h9M105 61.5h1M125 61.5h3M133 61.5h13M152 61.5h26M179 61.5h41M95 62.5h9M126 62.5h2M134 62.5h11M150 62.5h1M152 62.5h26M179 62.5h1M182 62.5h38M95 63.5h1M97 63.5h7M124 63.5h1M126 63.5h1M133 63.5h12M152 63.5h27M182 63.5h38M0 64.5h2M99 64.5h4M134 64.5h9M152 64.5h27M181 64.5h39M0 65.5h2M96 65.5h1M133 65.5h9M154 65.5h25M180 65.5h40M0 66.5h2M132 66.5h10M154 66.5h25M180 66.5h40M0 67.5h2M94 67.5h2M131 67.5h11M156 67.5h64M0 68.5h1M94 68.5h1M131 68.5h10M157 68.5h53M211 68.5h9M0 69.5h1M92 69.5h5M123 69.5h1M125 69.5h1M130 69.5h6M137 69.5h4M155 69.5h56M212 69.5h8M0 70.5h2M90 70.5h6M123 70.5h4M128 70.5h9M138 70.5h1M155 70.5h55M211 70.5h9M0 71.5h2M92 71.5h4M97 71.5h1M124 71.5h14M156 71.5h64M1 72.5h2M92 72.5h5M118 72.5h1M122 72.5h14M156 72.5h64M2 73.5h1M90 73.5h1M92 73.5h5M114 73.5h12M127 73.5h9M156 73.5h64M90 74.5h6M97 74.5h1M113 74.5h10M124 74.5h12M155 74.5h53M210 74.5h10M91 75.5h6M112 75.5h26M156 75.5h51M210 75.5h10M93 76.5h5M111 76.5h14M127 76.5h8M145 76.5h1M156 76.5h50M210 76.5h10M112 77.5h13M127 77.5h8M145 77.5h3M156 77.5h51M210 77.5h10M112 78.5h23M144 78.5h3M155 78.5h51M210 78.5h10M111 79.5h14M126 79.5h2M129 79.5h6M143 79.5h4M154 79.5h2M157 79.5h48M213 79.5h7M91 80.5h3M111 80.5h13M128 80.5h1M131 80.5h1M138 80.5h1M140 80.5h7M154 80.5h23M178 80.5h27M214 80.5h1M216 80.5h4M90 81.5h5M111 81.5h13M131 81.5h2M134 81.5h1M136 81.5h3M142 81.5h6M158 81.5h12M171 81.5h11M183 81.5h1M185 81.5h1M187 81.5h2M190 81.5h12M219 81.5h1M88 82.5h7M111 82.5h13M133 82.5h2M136 82.5h2M141 82.5h6M159 82.5h1M161 82.5h3M174 82.5h1M178 82.5h6M190 82.5h11M88 83.5h9M112 83.5h13M141 83.5h5M175 83.5h1M178 83.5h5M185 83.5h1M191 83.5h10M88 84.5h8M112 84.5h12M142 84.5h4M179 84.5h5M191 84.5h10M88 85.5h8M113 85.5h10M138 85.5h2M141 85.5h6M179 85.5h5M192 85.5h9M87 86.5h9M112 86.5h12M138 86.5h8M157 86.5h1M164 86.5h1M180 86.5h3M192 86.5h9M88 87.5h8M113 87.5h10M126 87.5h1M137 87.5h10M156 87.5h2M159 87.5h1M162 87.5h2M165 87.5h1M167 87.5h1M180 87.5h2M193 87.5h2M197 87.5h4M87 88.5h9M116 88.5h11M137 88.5h11M152 88.5h17M178 88.5h1M180 88.5h3M194 88.5h1M196 88.5h5M87 89.5h8M115 89.5h13M137 89.5h10M152 89.5h18M177 89.5h2M180 89.5h3M194 89.5h1M197 89.5h5M87 90.5h8M96 90.5h1M115 90.5h13M137 90.5h9M151 90.5h18M181 90.5h1M197 90.5h5M88 91.5h3M93 91.5h2M115 91.5h12M137 91.5h10M152 91.5h18M193 91.5h1M196 91.5h6M114 92.5h11M126 92.5h1M137 92.5h10M150 92.5h19M175 92.5h4M180 92.5h2M194 92.5h10M114 93.5h12M137 93.5h9M147 93.5h1M149 93.5h20M174 93.5h9M185 93.5h1M194 93.5h11M212 93.5h7M114 94.5h11M137 94.5h10M148 94.5h17M171 94.5h35M212 94.5h8M116 95.5h4M121 95.5h4M136 95.5h29M170 95.5h35M211 95.5h9M136 96.5h29M171 96.5h35M211 96.5h9M136 97.5h29M171 97.5h35M211 97.5h9M135 98.5h29M170 98.5h37M211 98.5h9M134 99.5h30M166 99.5h41M211 99.5h9M134 100.5h73M211 100.5h9M133 101.5h7M141 101.5h4M147 101.5h59M211 101.5h9M133 102.5h10M148 102.5h58M212 102.5h8M133 103.5h1M135 103.5h3M139 103.5h4M147 103.5h59M213 103.5h7M129 104.5h2M137 104.5h2M140 104.5h4M146 104.5h60M214 104.5h6M128 105.5h4M136 105.5h1M141 105.5h41M184 105.5h22M215 105.5h5M127 106.5h6M141 106.5h41M184 106.5h23M216 106.5h4M128 107.5h4M141 107.5h66M216 107.5h4M128 108.5h5M143 108.5h57M216 108.5h4M128 109.5h4M145 109.5h55M128 110.5h3M146 110.5h53M117 111.5h2M147 111.5h51M116 112.5h3M148 112.5h50M149 113.5h48M149 114.5h2M152 114.5h41M151 115.5h1M158 115.5h34M219 115.5h1M159 116.5h34M217 116.5h3M159 117.5h7M169 117.5h22M216 117.5h4M159 118.5h6M169 118.5h1M172 118.5h8M181 118.5h2M186 118.5h4M191 118.5h1M215 118.5h5M159 119.5h5M169 119.5h1M172 119.5h8M188 119.5h2M213 119.5h7M159 120.5h7M172 120.5h9M206 120.5h4M211 120.5h9M159 121.5h6M174 121.5h6M206 121.5h14M159 122.5h1M161 122.5h3M175 122.5h5M205 122.5h15M160 123.5h3M175 123.5h4M204 123.5h1M206 123.5h14M163 124.5h1M176 124.5h2M204 124.5h16M203 125.5h17M203 126.5h17M203 127.5h11M215 127.5h5M203 128.5h9M215 128.5h5M202 129.5h9M216 129.5h4M202 130.5h8M216 130.5h4M203 131.5h7M215 131.5h5M201 132.5h9M215 132.5h5M202 133.5h8M216 133.5h4M201 134.5h10M216 134.5h4M201 135.5h11M215 135.5h5M207 136.5h5M215 136.5h5M207 137.5h5M215 137.5h5M207 138.5h5M216 138.5h4M206 139.5h5M216 139.5h4M206 140.5h5M215 140.5h5M206 141.5h7M217 141.5h3M207 142.5h8M216 142.5h4M206 143.5h14M206 144.5h14M206 145.5h14M206 146.5h4M211 146.5h9M208 147.5h1M211 147.5h9M214 148.5h6M216 149.5h4M215 150.5h5M215 151.5h5M199 152.5h1M215 152.5h5M199 153.5h3M216 153.5h4M199 154.5h3M216 154.5h4M201 155.5h1M216 155.5h4M215 156.5h5M214 157.5h6M213 158.5h7M213 159.5h7M214 160.5h6M215 161.5h5M215 162.5h5M214 163.5h6M214 164.5h6M213 165.5h7M212 166.5h8M212 167.5h8M186 168.5h1M213 168.5h7M213 169.5h7M185 170.5h1M187 170.5h1M211 170.5h9M185 171.5h3M211 171.5h9M176 172.5h1M185 172.5h3M211 172.5h9M175 173.5h3M185 173.5h1M212 173.5h8M176 174.5h3M214 174.5h6M175 175.5h4M199 175.5h2M203 175.5h2M213 175.5h7M175 176.5h1M177 176.5h1M197 176.5h8M213 176.5h1M215 176.5h5M175 177.5h2M197 177.5h8M215 177.5h5M196 178.5h9M215 178.5h5M198 179.5h7M214 179.5h1M216 179.5h4M190 180.5h1M197 180.5h9M215 180.5h5M188 181.5h4M198 181.5h7M216 181.5h4M188 182.5h4M197 182.5h9M217 182.5h1M166 183.5h1M188 183.5h5M196 183.5h1M201 183.5h2M165 184.5h2M168 184.5h1M188 184.5h5M165 185.5h4M187 185.5h7M165 186.5h2M168 186.5h2M188 186.5h7M165 187.5h2M168 187.5h1M187 187.5h10M207 187.5h1M209 187.5h1M167 188.5h1M187 188.5h10M206 188.5h6M186 189.5h12M206 189.5h8M188 190.5h9M206 190.5h10M190 191.5h7M206 191.5h11M188 192.5h2M192 192.5h4M206 192.5h12M189 193.5h7M206 193.5h14M192 194.5h4M208 194.5h12M190 195.5h6M207 195.5h13M191 196.5h1M193 196.5h4M205 196.5h2M209 196.5h11M180 197.5h1M192 197.5h6M212 197.5h8M179 198.5h2M192 198.5h6M214 198.5h6M178 199.5h3M192 199.5h1M194 199.5h4M214 199.5h6M179 200.5h3M194 200.5h4M215 200.5h5M180 201.5h3M194 201.5h2M214 201.5h6M179 202.5h3M191 202.5h2M194 202.5h3M214 202.5h6M191 203.5h4M215 203.5h5M192 204.5h3M216 204.5h4M217 205.5h2M171 206.5h3M170 207.5h4M170 208.5h3" stroke="#6ed214"/>
<path d="M180 0.5h8M196 0.5h24M179 1.5h8M196 1.5h24M179 2.5h8M196 2.5h24M179 3.5h6M186 3.5h2M196 3.5h24M172 4.5h1M186 4.5h1M193 4.5h27M171 5.5h1M187 5.5h1M192 5.5h28M172 6.5h2M192 6.5h28M172 7.5h3M192 7.5h28M172 8.5h2M191 8.5h29M171 9.5h2M192 9.5h28M191 10.5h29M191 11.5h29M192 12.5h28M192 13.5h28M193 14.5h27M195 15.5h25M194 16.5h2M197 16.5h23M197 17.5h23M198 18.5h22M198 19.5h22M200 20.5h20M200 21.5h6M207 21.5h13M201 22.5h19M200 23.5h20M201 24.5h19M202 25.5h18M203 26.5h17M203 27.5h17M203 28.5h17M201 29.5h19M200 30.5h20M200 31.5h20M201 32.5h19M201 33.5h19M201 34.5h19M192 35.5h1M203 35.5h17M191 36.5h4M203 36.5h17M191 37.5h6M202 37.5h18M191 38.5h29M191 39.5h29M191 40.5h29M191 41.5h29M191 42.5h29M191 43.5h29M191 44.5h29M189 45.5h31M189 46.5h15M205 46.5h15M188 47.5h14M206 47.5h14M188 48.5h14M206 48.5h14M184 49.5h19M205 49.5h15M183 50.5h37M183 51.5h37M182 52.5h38M182 53.5h38M181 54.5h39M180 55.5h13M196 55.5h8M205 55.5h15M178 56.5h15M196 56.5h7M206 56.5h14M179 57.5h13M197 57.5h6M206 57.5h14M179 58.5h12M197 58.5h6M206 58.5h14M156 59.5h1M180 59.5h11M197 59.5h6M204 59.5h16M155 60.5h3M173 60.5h1M183 60.5h7M197 60.5h23M156 61.5h1M159 61.5h5M171 61.5h1M183 61.5h8M196 61.5h24M155 62.5h1M157 62.5h2M160 62.5h6M171 62.5h1M173 62.5h1M182 62.5h11M194 62.5h26M159 63.5h7M170 63.5h4M182 63.5h38M159 64.5h6M170 64.5h7M181 64.5h29M213 64.5h7M159 65.5h6M170 65.5h8M180 65.5h29M214 65.5h6M159 66.5h6M170 66.5h8M180 66.5h30M215 66.5h5M159 67.5h6M170 67.5h9M180 67.5h30M214 67.5h6M159 68.5h6M170 68.5h9M181 68.5h29M214 68.5h6M160 69.5h4M170 69.5h9M180 69.5h30M214 69.5h6M160 70.5h4M170 70.5h40M213 70.5h7M160 71.5h5M168 71.5h43M212 71.5h1M214 71.5h6M160 72.5h4M168 72.5h43M212 72.5h8M161 73.5h3M168 73.5h52M162 74.5h2M168 74.5h39M211 74.5h9M160 75.5h3M169 75.5h37M211 75.5h9M159 76.5h1M161 76.5h3M170 76.5h33M211 76.5h9M159 77.5h2M162 77.5h1M169 77.5h1M171 77.5h3M176 77.5h1M182 77.5h20M212 77.5h8M159 78.5h1M185 78.5h14M201 78.5h1M214 78.5h1M216 78.5h4M218 79.5h1M195 93.5h9M185 94.5h12M199 94.5h5M139 95.5h1M152 95.5h4M184 95.5h10M200 95.5h1M202 95.5h3M214 95.5h1M137 96.5h1M140 96.5h1M142 96.5h1M151 96.5h4M156 96.5h1M158 96.5h1M178 96.5h6M187 96.5h7M200 96.5h6M213 96.5h2M151 97.5h5M158 97.5h1M179 97.5h5M188 97.5h6M202 97.5h4M212 97.5h3M151 98.5h9M179 98.5h4M189 98.5h5M202 98.5h5M212 98.5h5M150 99.5h14M166 99.5h5M173 99.5h3M179 99.5h4M188 99.5h19M212 99.5h2M151 100.5h8M161 100.5h9M179 100.5h4M188 100.5h19M213 100.5h2M151 101.5h8M164 101.5h5M184 101.5h1M186 101.5h4M192 101.5h14M151 102.5h7M164 102.5h4M184 102.5h4M192 102.5h7M204 102.5h2M152 103.5h6M164 103.5h2M167 103.5h1M171 103.5h2M174 103.5h2M183 103.5h4M191 103.5h8M151 104.5h3M156 104.5h2M162 104.5h1M165 104.5h11M182 104.5h6M190 104.5h9M150 105.5h3M157 105.5h2M161 105.5h2M165 105.5h12M179 105.5h3M184 105.5h15M147 106.5h6M157 106.5h7M165 106.5h12M179 106.5h3M184 106.5h9M194 106.5h4M147 107.5h6M157 107.5h1M159 107.5h18M178 107.5h12M195 107.5h4M148 108.5h2M152 108.5h1M158 108.5h19M179 108.5h11M195 108.5h5M155 109.5h1M158 109.5h18M179 109.5h5M187 109.5h4M195 109.5h5M153 110.5h1M159 110.5h1M163 110.5h14M179 110.5h2M187 110.5h9M160 111.5h1M170 111.5h8M179 111.5h2M186 111.5h8M171 112.5h7M185 112.5h8M172 113.5h6M183 113.5h9M171 114.5h3M175 114.5h1M182 114.5h5M183 115.5h1" stroke="#00be3c"/>
<path d="M199 0.5h21M198 1.5h22M198 2.5h22M198 3.5h22M197 4.5h23M194 5.5h1M196 5.5h24M193 6.5h27M194 7.5h26M194 8.5h26M194 9.5h26M194 10.5h26M194 11.5h26M194 12.5h26M195 13.5h25M195 14.5h25M197 15.5h23M198 16.5h22M198 17.5h22M198 18.5h22M198 19.5h22M200 20.5h20M202 21.5h4M207 21.5h13M201 22.5h19M200 23.5h20M201 24.5h19M202 25.5h8M211 25.5h2M215 25.5h5M203 26.5h5M215 26.5h5M203 27.5h3M215 27.5h5M203 28.5h1M205 28.5h1M215 28.5h5M214 29.5h6M210 30.5h1M214 30.5h6M216 31.5h4M217 32.5h3M216 33.5h4M216 34.5h4M211 35.5h2M215 35.5h5M211 36.5h2M214 36.5h6M215 37.5h5M214 38.5h6M214 39.5h6M194 40.5h1M196 40.5h1M199 40.5h4M214 40.5h6M193 41.5h11M205 41.5h1M214 41.5h6M193 42.5h11M205 42.5h2M214 42.5h6M193 43.5h13M214 43.5h6M194 44.5h10M213 44.5h7M193 45.5h8M202 45.5h1M214 45.5h6M193 46.5h7M215 46.5h5M190 47.5h10M209 47.5h3M216 47.5h4M190 48.5h10M208 48.5h4M216 48.5h4M189 49.5h12M208 49.5h4M217 49.5h3M186 50.5h1M188 50.5h14M206 50.5h6M216 50.5h4M184 51.5h36M184 52.5h36M184 53.5h7M195 53.5h25M184 54.5h7M197 54.5h5M206 54.5h14M184 55.5h7M197 55.5h5M207 55.5h13M183 56.5h7M198 56.5h3M207 56.5h13M181 57.5h2M184 57.5h5M198 57.5h3M207 57.5h13M186 58.5h1M188 58.5h1M199 58.5h2M207 58.5h13M199 59.5h3M207 59.5h13M197 60.5h5M203 60.5h1M206 60.5h14M187 61.5h2M196 61.5h24M182 62.5h11M195 62.5h16M214 62.5h6M182 63.5h28M215 63.5h5M181 64.5h29M216 64.5h1M218 64.5h2M180 65.5h15M196 65.5h13M180 66.5h30M180 67.5h30M181 68.5h29M216 68.5h4M182 69.5h28M216 69.5h4M181 70.5h29M215 70.5h5M181 71.5h30M214 71.5h6M182 72.5h29M214 72.5h6M182 73.5h29M213 73.5h7M183 74.5h24M212 74.5h8M183 75.5h23M213 75.5h7M184 76.5h19M217 76.5h3M188 77.5h12M218 77.5h2M198 78.5h1" stroke="#00e6c8"/>
<path d="M201 0.5h19M200 1.5h20M200 2.5h20M200 3.5h20M199 4.5h21M196 5.5h24M196 6.5h24M195 7.5h25M196 8.5h23M196 9.5h18M217 9.5h2M196 10.5h18M196 11.5h17M196 12.5h9M206 12.5h8M195 13.5h15M212 13.5h2M195 14.5h11M198 15.5h8M218 15.5h1M198 16.5h7M217 16.5h3M198 17.5h6M207 17.5h2M216 17.5h4M198 18.5h6M206 18.5h3M214 18.5h6M198 19.5h6M206 19.5h4M214 19.5h6M200 20.5h5M206 20.5h5M214 20.5h6M202 21.5h4M207 21.5h3M214 21.5h6M201 22.5h5M207 22.5h3M214 22.5h6M200 23.5h9M214 23.5h6M201 24.5h6M210 24.5h1M215 24.5h5M202 25.5h5M208 25.5h1M215 25.5h5M203 26.5h4M216 26.5h4M204 27.5h2M216 27.5h4M205 28.5h1M216 28.5h4M216 29.5h4M216 30.5h4M217 31.5h3M217 32.5h3M217 33.5h3M216 34.5h4M215 35.5h5M214 36.5h6M215 37.5h5M215 38.5h5M216 39.5h4M216 40.5h4M216 41.5h4M216 42.5h4M215 43.5h5M215 44.5h5M216 45.5h4M206 64.5h1M186 65.5h5M203 65.5h5M185 66.5h6M201 66.5h7M185 67.5h7M200 67.5h6M186 68.5h6M199 68.5h7M185 69.5h8M194 69.5h11M185 70.5h20M217 70.5h3M185 71.5h20M217 71.5h3M187 72.5h7M195 72.5h8M217 72.5h3M187 73.5h16M187 74.5h15M189 75.5h1M194 75.5h2" stroke="#0096ff"/>
<path d="M219 18.5h1M218 19.5h2M218 20.5h2M218 21.5h2M218 22.5h2M218 23.5h2M218 24.5h2" stroke="#0000ff"/>
</g>
</g>
<clipPath id="mc"><rect x="155.5" y="76.5" width="528" height="528"/></clipPath>
<g fill="none" stroke="#000" stroke-width="1" stroke-linejoin="round" clip-path="url(#mc)"><path d="M185.8 76.5 L181.4 171.7"/><path d="M155.5 170.5 L169.8 171.2 L184.1 171.8 L198.5 172.4 L212.8 172.9 L227.1 173.4 L241.4 173.9 L255.7 174.3 L270.1 174.7 L284.4 175.0 L298.7 175.3 L313.0 175.6 L327.3 175.9 L341.7 176.1 L356.0 176.2 L370.3 176.3 L384.6 176.4 L399.0 176.5 L413.3 176.5 L427.6 176.5 L441.9 176.4 L456.2 176.3 L470.6 176.2 L484.9 176.0 L499.2 175.8 L513.5 175.5 L527.8 175.3 L542.2 174.9 L556.5 174.6 L570.8 174.2"/><path d="M155.5 203.5 L170.1 204.1 L184.8 204.8 L199.4 205.3 L214.0 205.9 L228.7 206.4 L243.3 206.8 L257.9 207.3 L272.6 207.7 L287.2 208.0"/><path d="M287.2 208.0 L285.4 332.8"/><path d="M567.6 76.5 L570.8 174.2 L571.8 206.3 L582.2 274.5 L583.2 341.0 L583.4 392.5"/><path d="M571.8 207.1 L587.8 206.6 L603.7 206.0 L619.7 205.5 L635.6 204.8 L651.6 204.2 L667.5 203.4 L683.5 202.7"/><path d="M285.4 332.8 L290.0 336.0 L293.6 337.7 L295.3 341.0 L300.0 344.5 L306.8 346.0 L312.0 343.0 L318.4 342.7 L322.0 349.0 L328.3 355.9 L335.0 357.0 L341.5 359.2 L347.0 362.5 L353.0 363.3 L359.0 365.0 L364.6 365.8 L368.0 366.5 L372.8 363.3 L379.0 364.5 L386.0 364.1 L387.0 369.0 L389.3 374.0 L394.0 379.0 L399.2 382.3 L404.0 380.0 L407.0 376.0 L410.0 374.2 L413.4 375.3 L415.1 379.2 L420.1 378.7 L422.9 383.7 L426.9 383.7 L429.1 381.5 L434.2 379.8 L436.4 382.1 L436.4 388.2 L439.2 392.7 L442.1 388.2 L442.6 383.7 L446.0 382.1 L447.7 376.4"/><path d="M469.6 383.7 L473.0 386.0 L477.5 386.6 L480.3 389.4 L484.2 393.3 L486.5 389.4 L489.9 387.1 L493.2 383.7 L500.0 381.5 L504.8 380.6 L513.0 378.5 L521.3 375.7 L528.0 378.5 L534.5 379.8 L539.0 378.0 L542.8 374.0 L547.0 376.0 L551.0 378.0 L555.0 382.0 L559.0 385.6 L564.0 385.0 L567.0 388.5 L572.0 389.0 L575.8 390.5 L580.0 394.0 L584.0 393.0 L589.0 398.8 L594.0 397.5 L599.0 399.2 L603.0 397.8 L608.0 398.8"/><path d="M608.0 398.8 L608.8 434.2 L609.6 473.0 L610.4 499.4 L614.0 503.0 L617.0 509.0 L623.6 516.0 L624.0 523.0 L625.3 529.0 L627.0 532.5 L630.2 534.0 L632.0 539.0 L635.0 544.0 L638.5 550.6 L641.0 552.5 L641.8 555.5 L640.5 560.0 L642.0 565.4 L640.5 570.0 L641.8 575.3 L640.0 582.0 L637.0 587.0 L633.5 591.8 L634.5 597.0 L633.5 604.5"/><path d="M608.8 434.2 L623.7 433.7 L638.7 433.1 L653.6 432.5 L668.6 431.8 L683.5 431.1"/><path d="M447.7 376.4 L450.5 377.0 L453.3 381.5 L457.2 382.6 L459.5 384.9 L462.3 382.6 L464.0 378.7 L467.4 378.1 L468.5 380.4 L469.4 383.5" stroke-width="2.6"/><path d="M469.4 383.5 L469.6 376.4 L468.5 372.5 L465.7 370.8 L468.5 371.4 L470.2 368.6 L471.9 368.0" stroke-width="1.9"/><path d="M422.5 290.2 L424.0 294.2 L428.3 294.4 L424.9 297.1 L426.1 301.2 L422.5 298.9 L418.9 301.2 L420.1 297.1 L416.7 294.4 L421.0 294.2Z" stroke-width="1.0" stroke-linejoin="miter"/><path d="M458.0 447.9 L459.5 451.9 L463.7 452.0 L460.4 454.7 L461.5 458.8 L458.0 456.4 L454.5 458.8 L455.6 454.7 L452.3 452.0 L456.5 451.9Z" stroke-width="1.0" stroke-linejoin="miter"/></g>
<g fill="none" stroke="#000" stroke-width="0.55" clip-path="url(#mc)"><path d="M171.5 87.7L160.7 72.3M164.9 74.4L160.7 72.3L161.3 77.0M194.2 86.8L184.0 73.2M188.3 75.2L184.0 73.2L184.7 78.0M216.1 87.1L208.1 72.9M212.1 75.5L208.1 72.9L208.2 77.7M239.7 87.8L230.5 72.2M234.6 74.7L230.5 72.2L230.7 77.0M261.7 86.5L254.5 73.5M258.5 76.1L254.5 73.5L254.6 78.3M285.2 87.4L277.0 72.6M281.1 75.3L277.0 72.6L277.1 77.4M309.0 85.1L299.2 74.9M303.8 76.4L299.2 74.9L300.5 79.5M331.4 86.2L322.8 73.8M327.0 76.0L322.8 73.8L323.4 78.6M354.4 85.0L345.8 75.0M350.3 76.7L345.8 75.0L346.8 79.7M377.5 83.8L368.7 76.2M373.3 77.3L368.7 76.2L370.4 80.7M400.5 82.5L391.7 77.5M396.5 77.6L391.7 77.5L394.2 81.5M423.1 82.8L415.1 77.2M419.8 77.8L415.1 77.2L417.2 81.5M445.9 81.7L438.3 78.3M442.5 78.0L438.3 78.3L440.9 81.6M470.2 81.9L460.0 78.1M464.8 77.5L460.0 78.1L463.2 81.7M493.2 81.5L483.0 78.5M487.7 77.5L483.0 78.5L486.4 81.8M516.7 81.1L505.5 78.9M510.1 77.5L505.5 78.9L509.2 81.9M539.2 81.0L529.0 79.0M533.6 77.6L529.0 79.0L532.7 82.0M563.0 80.9L551.2 79.1M555.8 77.5L551.2 79.1L555.1 82.0M586.2 81.3L574.0 78.7M578.6 77.4L574.0 78.7L577.7 81.8M608.2 80.7L598.0 79.3M602.5 77.6L598.0 79.3L601.9 82.1M630.3 79.1L621.9 80.9M625.2 78.1L621.9 80.9L626.0 82.1M654.7 78.9L643.5 81.1M647.2 78.1L643.5 81.1L648.1 82.5M677.2 79.0L667.0 81.0M670.7 78.0L667.0 81.0L671.6 82.4M159.7 107.5L149.7 91.3M153.9 93.8L149.7 91.3L150.0 96.1M182.8 106.6L172.6 92.3M176.9 94.4L172.6 92.3L173.2 97.0M205.0 107.2L196.4 91.7M200.4 94.3L196.4 91.7L196.5 96.5M227.8 107.3L219.6 91.6M223.6 94.3L219.6 91.6L219.6 96.4M251.0 107.3L242.4 91.5M246.4 94.2L242.4 91.5L242.4 96.3M273.0 106.1L266.4 92.7M270.3 95.5L266.4 92.7L266.2 97.5M295.7 105.4L289.7 93.5M293.6 96.3L289.7 93.5L289.6 98.3M319.7 104.6L311.7 94.3M316.1 96.2L311.7 94.3L312.5 99.0M343.4 104.3L334.0 94.6M338.6 96.1L334.0 94.6L335.3 99.2M365.1 103.6L358.3 95.3M362.7 97.1L358.3 95.3L359.2 100.0M388.6 102.5L380.8 96.4M385.5 97.2L380.8 96.4L382.7 100.8M411.4 102.3L404.0 96.6M408.6 97.4L404.0 96.6L405.9 100.8M434.8 101.6L426.6 97.2M431.2 97.3L426.6 97.2L429.2 101.1M457.7 101.9L449.7 97.0M454.4 97.3L449.7 97.0L452.1 101.0M480.6 101.8L472.8 97.1M477.3 97.3L472.8 97.1L475.1 101.0M505.1 101.4L494.3 97.4M499.1 96.8L494.3 97.4L497.5 101.0M527.2 100.6L518.2 98.3M522.7 97.2L518.2 98.3L521.6 101.4M551.4 100.8L540.0 98.0M544.6 96.8L540.0 98.0L543.5 101.2M573.9 100.6L563.5 98.2M568.2 97.0L563.5 98.2L567.2 101.4M597.8 99.4L585.6 99.4M589.9 97.2L585.6 99.4L589.9 101.7M620.4 99.4L609.0 99.5M613.2 97.2L609.0 99.5L613.3 101.7M642.4 99.0L633.0 99.9M636.9 97.3L633.0 99.9L637.4 101.7M665.2 97.7L656.2 101.2M659.3 97.5L656.2 101.2L660.9 101.8M688.5 99.1L678.9 99.7M683.0 97.2L678.9 99.7L683.3 101.7M172.0 125.8L160.2 111.9M164.7 113.7L160.2 111.9L161.3 116.6M194.1 125.5L184.1 112.2M188.4 114.2L184.1 112.2L184.8 116.9M217.0 126.0L207.2 111.7M211.5 114.0L207.2 111.7L207.8 116.5M239.8 126.1L230.4 111.7M234.6 114.0L230.4 111.7L230.8 116.4M262.2 125.9L254.0 111.8M258.1 114.3L254.0 111.8L254.2 116.6M285.4 124.1L276.8 113.6M281.3 115.5L276.8 113.6L277.8 118.3M308.3 125.5L299.9 112.2M304.1 114.6L299.9 112.2L300.3 117.0M330.6 123.8L323.6 114.0M327.9 116.1L323.6 114.0L324.2 118.7M354.9 122.5L345.3 115.2M350.1 116.0L345.3 115.2L347.3 119.6M377.1 122.4L369.1 115.3M373.8 116.4L369.1 115.3L370.8 119.8M400.4 122.0L391.8 115.7M396.6 116.4L391.8 115.7L393.9 120.1M423.1 120.5L415.1 117.2M419.4 116.8L415.1 117.2L417.9 120.5M446.4 120.5L437.8 117.2M442.4 116.7L437.8 117.2L440.8 120.7M468.4 121.1L461.8 116.7M465.8 117.1L461.8 116.7L463.7 120.1M492.5 120.2L483.7 117.5M488.2 116.6L483.7 117.5L486.9 120.8M516.5 120.3L505.7 117.5M510.3 116.3L505.7 117.5L509.2 120.7M539.2 119.2L529.0 118.5M533.4 116.6L529.0 118.5L533.1 121.1M562.7 119.2L551.5 118.5M555.8 116.5L551.5 118.5L555.6 121.0M585.3 118.8L574.9 118.9M579.1 116.6L574.9 118.9L579.2 121.1M607.9 118.3L598.3 119.4M602.2 116.7L598.3 119.4L602.7 121.2M630.7 117.1L621.5 120.6M624.6 117.0L621.5 120.6L626.2 121.2M653.3 117.6L644.9 120.1M648.0 117.0L644.9 120.1L649.2 121.0M676.2 118.2L668.0 119.6M671.3 117.0L668.0 119.6L671.9 120.9M159.5 144.2L149.9 132.4M154.4 134.3L149.9 132.4L150.8 137.1M181.9 143.8L173.5 132.8M177.8 134.8L173.5 132.8L174.3 137.5M205.2 145.3L196.2 131.2M200.4 133.6L196.2 131.2L196.6 136.0M227.1 143.7L220.3 132.8M224.4 135.2L220.3 132.8L220.6 137.6M251.7 143.4L241.7 133.2M246.3 134.6L241.7 133.2L243.0 137.8M274.2 144.9L265.2 131.7M269.5 133.9L265.2 131.7L265.7 136.4M297.5 143.9L287.9 132.6M292.3 134.4L287.9 132.6L288.9 137.3M319.5 143.8L311.9 132.7M316.1 135.0L311.9 132.7L312.4 137.5M343.2 142.7L334.2 133.9M338.8 135.2L334.2 133.9L335.6 138.5M365.9 142.0L357.5 134.6M362.2 135.7L357.5 134.6L359.2 139.1M388.2 139.9L381.2 136.7M385.0 136.5L381.2 136.7L383.5 139.7M411.2 140.6L404.2 136.0M408.4 136.4L404.2 136.0L406.2 139.7M435.5 139.7L425.9 136.9M430.6 135.9L425.9 136.9L429.4 140.2M458.5 139.8L448.9 136.8M453.6 135.9L448.9 136.8L452.3 140.2M482.2 138.0L471.2 138.6M475.3 136.1L471.2 138.6L475.6 140.6M503.9 139.2L495.5 137.3M499.7 136.2L495.5 137.3L498.8 140.1M527.1 137.6L518.3 139.0M521.9 136.3L518.3 139.0L522.5 140.4M552.3 138.3L539.1 138.2M543.4 136.0L539.1 138.2L543.3 140.5M574.6 137.4L562.8 139.2M566.7 136.3L562.8 139.2L567.4 140.8M597.5 137.5L585.9 139.0M589.8 136.3L585.9 139.0L590.4 140.7M620.0 136.1L609.4 140.5M612.5 136.8L609.4 140.5L614.2 140.9M641.3 137.1L634.1 139.5M636.7 136.7L634.1 139.5L637.8 140.1M665.7 135.2L655.7 141.4M658.1 137.3L655.7 141.4L660.5 141.1M688.7 137.0L678.7 139.6M682.2 136.4L678.7 139.6L683.3 140.7M170.4 163.4L161.8 152.1M166.2 154.1L161.8 152.1L162.6 156.8M192.8 163.4L185.4 152.0M189.6 154.4L185.4 152.0L185.8 156.8M217.0 162.9L207.2 152.6M211.7 154.1L207.2 152.6L208.5 157.2M239.6 161.7L230.6 153.8M235.3 154.9L230.6 153.8L232.3 158.3M262.8 163.1L253.4 152.4M257.9 154.0L253.4 152.4L254.5 157.0M286.5 161.6L275.7 153.8M280.5 154.5L275.7 153.8L277.9 158.2M309.2 163.6L299.0 151.8M303.5 153.5L299.0 151.8L300.1 156.5M332.1 162.2L322.1 153.3M326.8 154.4L322.1 153.3L323.8 157.8M353.6 161.6L346.6 153.9M351.1 155.5L346.6 153.9L347.8 158.5M376.3 159.5L369.9 156.0M373.5 156.0L369.9 156.0L371.9 159.0M400.0 159.2L392.2 156.2M396.4 155.7L392.2 156.2L394.9 159.4M422.1 157.8L416.1 157.6M418.8 156.3L416.1 157.6L418.7 159.1M446.1 158.2L438.1 157.2M441.9 155.8L438.1 157.2L441.4 159.6M469.2 158.2L461.0 157.3M464.8 155.8L461.0 157.3L464.4 159.6M492.8 158.2L483.4 157.2M487.8 155.4L483.4 157.2L487.3 159.9M515.7 157.4L506.5 158.0M510.4 155.6L506.5 158.0L510.7 159.9M537.6 157.1L530.6 158.4M533.4 156.2L530.6 158.4L534.0 159.4M562.0 155.8L552.2 159.6M555.4 156.0L552.2 159.6L557.0 160.2M586.3 155.5L573.9 160.0M577.1 156.4L573.9 160.0L578.6 160.6M610.0 155.9L596.2 159.6M599.7 156.3L596.2 159.6L600.9 160.6M630.8 157.1L621.4 158.3M625.3 155.6L621.4 158.3L625.8 160.0M654.3 155.1L643.9 160.4M646.7 156.4L643.9 160.4L648.7 160.4M676.7 156.2L667.5 159.2M670.8 155.8L667.5 159.2L672.2 160.1M158.9 182.9L150.5 171.4M154.8 173.5L150.5 171.4L151.2 176.1M181.3 182.4L174.1 171.9M178.4 174.1L174.1 171.9L174.6 176.7M205.0 182.6L196.4 171.7M200.8 173.6L196.4 171.7L197.2 176.4M228.3 180.8L219.1 173.5M223.9 174.4L219.1 173.5L221.0 177.9M251.4 180.5L242.0 173.8M246.8 174.4L242.0 173.8L244.1 178.1M274.8 181.6L264.6 172.7M269.3 173.8L264.6 172.7L266.3 177.2M298.1 180.8L287.3 173.5M292.1 174.0L287.3 173.5L289.5 177.7M320.7 182.0L310.7 172.3M315.3 173.6L310.7 172.3L312.2 176.8M344.0 180.6L333.4 173.7M338.2 174.1L333.4 173.7L335.7 177.9M365.6 179.6L357.8 174.7M362.4 175.0L357.8 174.7L360.1 178.7M387.9 178.0L381.5 176.3M384.7 175.5L381.5 176.3L383.9 178.6M411.2 177.3L404.2 177.0M407.3 175.5L404.2 177.0L407.2 178.8M434.5 176.7L426.9 177.6M430.0 175.4L426.9 177.6L430.5 179.0M458.2 177.3L449.2 177.0M453.2 175.0L449.2 177.0L453.1 179.3M481.5 176.5L471.9 177.8M475.8 175.0L471.9 177.8L476.4 179.5M504.5 176.1L494.9 178.2M498.6 175.1L494.9 178.2L499.5 179.5M526.7 176.5L518.7 177.8M521.9 175.4L518.7 177.8L522.6 179.1M552.0 174.8L539.4 179.5M542.6 175.9L539.4 179.5L544.2 180.1M574.7 174.6L562.7 179.7M565.7 176.0L562.7 179.7L567.5 180.1M598.7 173.7L584.7 180.6M587.5 176.7L584.7 180.6L589.5 180.7M619.8 174.7L609.6 179.6M612.4 175.7L609.6 179.6L614.4 179.8M642.7 174.6L632.7 179.7M635.4 175.8L632.7 179.7L637.4 179.8M665.3 174.8L656.1 179.5M658.9 175.6L656.1 179.5L660.9 179.6M688.8 174.0L678.6 180.3M681.0 176.2L678.6 180.3L683.4 180.0M169.8 201.9L162.4 191.3M166.7 193.5L162.4 191.3L163.0 196.0M192.8 203.2L185.4 190.0M189.5 192.6L185.4 190.0L185.5 194.8M216.0 201.4L208.2 191.7M212.6 193.6L208.2 191.7L209.1 196.4M239.9 200.6L230.3 192.6M235.0 193.6L230.3 192.6L232.1 197.0M263.6 199.6L252.6 193.5M257.4 193.6L252.6 193.5L255.2 197.6M286.5 200.6L275.7 192.6M280.4 193.3L275.7 192.6L277.7 196.9M309.7 200.0L298.5 193.1M303.3 193.4L298.5 193.1L300.9 197.3M331.6 200.1L322.6 193.0M327.3 193.9L322.6 193.0L324.5 197.4M355.1 198.2L345.1 195.0M349.8 194.1L345.1 195.0L348.4 198.4M377.1 197.0L369.1 196.1M372.9 194.6L369.1 196.1L372.4 198.4M399.4 197.4L392.8 195.8M396.1 194.9L392.8 195.8L395.3 198.0M423.3 196.4L414.9 196.7M418.5 194.6L414.9 196.7L418.7 198.6M446.0 196.5L438.2 196.7M441.6 194.7L438.2 196.7L441.7 198.4M469.1 194.9L461.1 198.3M463.8 194.9L461.1 198.3L465.4 198.7M492.5 196.2L483.7 197.0M487.4 194.6L483.7 197.0L487.8 198.7M515.6 195.9L506.6 197.3M510.2 194.5L506.6 197.3L510.9 198.8M538.7 195.2L529.5 198.0M532.9 194.6L529.5 198.0L534.2 198.9M562.7 194.2L551.5 198.9M554.5 195.2L551.5 198.9L556.3 199.4M587.0 195.0L573.2 198.2M576.8 195.0L573.2 198.2L577.8 199.4M607.2 193.7L599.0 199.4M601.2 195.2L599.0 199.4L603.8 198.9M630.6 194.1L621.6 199.1M624.2 195.0L621.6 199.1L626.4 199.0M652.5 194.1L645.7 199.1M647.5 195.3L645.7 199.1L649.9 198.5M676.4 195.1L667.8 198.1M670.9 194.7L667.8 198.1L672.3 198.8M158.1 221.6L151.3 210.4M155.4 212.8L151.3 210.4L151.6 215.2M181.5 221.6L173.9 210.4M178.2 212.7L173.9 210.4L174.4 215.2M204.4 221.1L197.0 211.0M201.3 213.0L197.0 211.0L197.7 215.7M227.5 221.0L219.9 211.0M224.3 213.0L219.9 211.0L220.7 215.7M251.6 218.7L241.8 213.3M246.6 213.4L241.8 213.3L244.4 217.3M274.8 218.7L264.6 213.4M269.4 213.3L264.6 213.4L267.4 217.3M297.3 218.3L288.1 213.7M292.9 213.6L288.1 213.7L290.9 217.6M320.6 219.5L310.8 212.5M315.6 213.2L310.8 212.5L313.0 216.8M343.5 218.2L333.9 213.9M338.7 213.5L333.9 213.9L336.8 217.6M366.4 217.3L357.0 214.7M361.7 213.7L357.0 214.7L360.5 218.0M388.4 217.1L381.0 215.0M384.8 214.1L381.0 215.0L383.8 217.6M411.0 215.9L404.4 216.1M407.3 214.5L404.4 216.1L407.4 217.6M435.0 216.2L426.4 215.9M430.3 214.0L426.4 215.9L430.1 218.0M458.4 215.6L449.0 216.4M453.0 213.9L449.0 216.4L453.4 218.2M480.9 214.8L472.5 217.2M475.7 214.2L472.5 217.2L476.8 218.1M503.5 214.0L495.9 218.0M498.3 214.4L495.9 218.0L500.2 218.0M525.8 213.6L519.6 218.4M521.2 214.8L519.6 218.4L523.5 217.7M549.9 214.1L541.5 217.9M544.3 214.2L541.5 217.9L546.1 218.2M572.8 213.9L564.6 218.1M567.2 214.3L564.6 218.1L569.2 218.2M596.3 215.2L587.1 216.8M590.8 213.9L587.1 216.8L591.5 218.3M620.6 213.8L608.8 218.3M611.9 214.6L608.8 218.3L613.5 218.9M641.8 213.3L633.6 218.7M635.9 214.5L633.6 218.7L638.4 218.3M664.5 214.0L656.9 218.0M659.3 214.5L656.9 218.0L661.2 218.0M687.9 214.9L679.5 217.1M682.7 214.2L679.5 217.1L683.7 218.1M168.7 240.8L163.5 230.1M167.4 232.9L163.5 230.1L163.3 234.9M192.0 240.4L186.2 230.5M190.3 233.1L186.2 230.5L186.4 235.3M215.7 239.4L208.5 231.4M213.0 233.1L208.5 231.4L209.6 236.1M239.8 239.6L230.4 231.3M235.0 232.4L230.4 231.3L232.1 235.8M263.6 239.0L252.6 231.8M257.4 232.3L252.6 231.8L254.9 236.0M285.4 238.4L276.8 232.4M281.6 233.0L276.8 232.4L279.0 236.7M308.8 237.2L299.4 233.7M304.2 233.1L299.4 233.7L302.6 237.3M331.9 236.6L322.3 234.3M327.0 233.1L322.3 234.3L325.9 237.5M355.0 236.1L345.2 234.8M349.7 233.1L345.2 234.8L349.1 237.6M375.7 235.9L370.5 235.0M373.0 234.2L370.5 235.0L372.6 236.6M399.3 235.4L392.9 235.5M395.7 233.9L392.9 235.5L395.8 236.9M422.5 235.4L415.7 235.5M418.7 233.9L415.7 235.5L418.7 237.0M445.1 234.8L439.1 236.1M441.5 234.1L439.1 236.1L442.0 236.9M469.8 233.2L460.4 237.7M463.3 233.8L460.4 237.7L465.2 237.9M490.9 233.2L485.3 237.7M486.7 234.4L485.3 237.7L488.8 237.0M513.7 233.0L508.5 237.8M509.7 234.5L508.5 237.8L511.9 236.9M537.2 232.4L531.0 238.5M532.3 234.3L531.0 238.5L535.2 237.2M559.9 232.6L554.3 238.3M555.4 234.4L554.3 238.3L558.1 237.1M583.7 233.6L576.5 237.3M578.8 234.0L576.5 237.3L580.5 237.4M607.1 232.9L599.1 238.0M601.4 233.9L599.1 238.0L603.8 237.6M629.3 233.9L622.9 237.0M625.0 234.1L622.9 237.0L626.5 237.1M653.4 233.1L644.8 237.7M647.5 233.8L644.8 237.7L649.6 237.7M675.8 233.5L668.4 237.4M670.7 234.0L668.4 237.4L672.6 237.4M158.3 259.9L151.1 249.9M155.4 252.0L151.1 249.9L151.7 254.6M180.9 259.6L174.5 250.2M178.8 252.4L174.5 250.2L175.0 255.0M204.9 258.7L196.5 251.0M201.2 252.2L196.5 251.0L198.1 255.6M227.5 258.7L219.9 251.1M224.5 252.5L219.9 251.1L221.3 255.7M251.9 258.4L241.5 251.3M246.2 251.8L241.5 251.3L243.7 255.5M273.9 258.6L265.5 251.1M270.1 252.2L265.5 251.1L267.1 255.6M297.7 256.7L287.7 253.1M292.5 252.4L287.7 253.1L290.9 256.6M321.4 255.9L310.0 253.9M314.5 252.4L310.0 253.9L313.7 256.8M343.7 254.9L333.7 254.8M338.0 252.6L333.7 254.8L337.9 257.1M365.5 254.8L357.9 255.0M361.2 253.1L357.9 255.0L361.3 256.7M386.9 253.8L382.5 256.0M383.9 254.0L382.5 256.0L385.0 256.0M410.4 254.6L405.0 255.1M407.3 253.6L405.0 255.1L407.5 256.2M434.6 253.2L426.8 256.5M429.5 253.2L426.8 256.5L431.0 256.9M456.9 253.5L450.5 256.3M452.7 253.5L450.5 256.3L454.0 256.5M479.5 253.5L473.9 256.3M475.7 253.7L473.9 256.3L477.0 256.3M502.3 252.9L497.1 256.8M498.5 253.9L497.1 256.8L500.3 256.3M525.0 252.2L520.4 257.5M521.2 254.1L520.4 257.5L523.7 256.3M548.9 252.3L542.5 257.4M544.1 253.7L542.5 257.4L546.5 256.7M570.9 253.3L566.5 256.4M567.7 254.0L566.5 256.4L569.2 256.1M595.5 252.5L587.9 257.2M590.2 253.4L587.9 257.2L592.4 256.9M618.6 252.3L610.8 257.4M613.0 253.3L610.8 257.4L615.4 257.0M641.5 253.4L633.9 256.3M636.6 253.3L633.9 256.3L637.9 256.8M664.5 252.6L656.9 257.1M659.2 253.3L656.9 257.1L661.3 256.9M687.3 253.3L680.1 256.5M682.5 253.3L680.1 256.5L684.0 256.8M168.7 279.7L163.5 268.9M167.4 271.8L163.5 268.9L163.3 273.7M192.4 278.0L185.8 270.6M190.3 272.3L185.8 270.6L187.0 275.3M215.0 278.1L209.2 270.5M213.5 272.5L209.2 270.5L210.0 275.2M238.8 278.2L231.4 270.4M236.0 271.9L231.4 270.4L232.7 275.0M262.5 277.9L253.7 270.7M258.4 271.7L253.7 270.7L255.6 275.1M285.7 277.0L276.5 271.6M281.3 271.8L276.5 271.6L279.0 275.7M309.3 275.6L298.9 273.0M303.6 271.8L298.9 273.0L302.5 276.2M332.4 274.7L321.8 273.9M326.2 272.0L321.8 273.9L325.9 276.5M354.4 274.2L345.8 274.4M349.5 272.3L345.8 274.4L349.6 276.3M376.4 274.5L369.8 274.1M372.8 272.7L369.8 274.1L372.6 275.8M400.6 272.8L391.6 275.8M394.9 272.3L391.6 275.8L396.3 276.6M422.1 271.7L416.1 276.9M417.5 273.2L416.1 276.9L420.0 276.0M445.0 272.0L439.2 276.6M440.7 273.2L439.2 276.6L442.8 275.9M468.7 271.7L461.5 276.9M463.5 272.9L461.5 276.9L465.9 276.3M490.4 272.3L485.8 276.3M486.9 273.4L485.8 276.3L488.7 275.6M514.0 271.5L508.2 277.1M509.4 273.3L508.2 277.1L512.1 276.0M536.4 273.3L531.8 275.3M533.3 273.3L531.8 275.3L534.3 275.5M559.9 272.1L554.3 276.5M555.7 273.2L554.3 276.5L557.8 275.9M583.4 272.6L576.8 276.0M578.9 273.0L576.8 276.0L580.5 276.1M606.3 273.5L599.9 275.1M602.3 272.9L599.9 275.1L603.1 275.9M629.6 273.2L622.6 275.4M625.2 272.8L622.6 275.4L626.2 276.1M653.6 273.2L644.6 275.4M648.0 272.3L644.6 275.4L649.1 276.5M675.3 274.1L668.9 274.5M671.6 272.8L668.9 274.5L671.8 275.8M158.2 298.9L151.2 288.6M155.4 290.8L151.2 288.6L151.7 293.4M179.2 298.1L176.2 289.4M179.6 292.5L176.2 289.4L175.5 293.9M203.7 298.2L197.7 289.3M202.0 291.6L197.7 289.3L198.2 294.1M227.7 298.5L219.7 289.0M224.2 290.8L219.7 289.0L220.7 293.7M250.6 296.8L242.8 290.6M247.5 291.5L242.8 290.6L244.7 295.0M275.2 296.8L264.2 290.6M269.0 290.7L264.2 290.6L266.8 294.7M297.8 295.4L287.6 292.0M292.3 291.2L287.6 292.0L290.9 295.5M320.6 294.0L310.8 293.5M315.1 291.4L310.8 293.5L314.9 295.9M342.8 293.3L334.6 294.2M338.0 291.9L334.6 294.2L338.4 295.7M365.5 293.8L357.9 293.6M361.3 291.9L357.9 293.6L361.2 295.5M389.2 291.9L380.2 295.6M383.2 291.9L380.2 295.6L385.0 296.1M411.3 292.0L404.1 295.4M406.5 292.3L404.1 295.4L408.1 295.6M435.0 292.6L426.4 294.9M429.7 291.8L426.4 294.9L430.7 295.9M456.1 291.0L451.3 296.5M452.1 292.9L451.3 296.5L454.7 295.2M479.4 291.2L474.0 296.2M475.2 292.7L474.0 296.2L477.6 295.3M503.0 290.6L496.4 296.8M497.9 292.6L496.4 296.8L500.8 295.6M524.3 290.0L521.1 297.5M520.7 293.4L521.1 297.5L524.3 294.9M548.2 291.6L543.2 295.9M544.4 292.8L543.2 295.9L546.4 295.2M572.2 291.4L565.2 296.0M567.2 292.4L565.2 296.0L569.4 295.6M594.0 292.9L589.4 294.6M591.0 292.8L589.4 294.6L591.8 294.9M618.1 292.7L611.3 294.8M613.8 292.3L611.3 294.8L614.8 295.4M641.8 294.3L633.6 293.2M637.5 291.7L633.6 293.2L636.9 295.6M664.9 292.7L656.5 294.8M659.7 291.9L656.5 294.8L660.7 295.8M688.5 293.5L678.9 294.0M683.0 291.5L678.9 294.0L683.3 296.0M170.5 316.3L161.7 310.0M166.4 310.6L161.7 310.0L163.8 314.3M191.5 317.0L186.7 309.3M190.6 311.6L186.7 309.3L187.0 313.8M215.4 317.0L208.8 309.3M213.3 311.1L208.8 309.3L209.8 314.0M238.8 316.5L231.4 309.8M236.1 311.0L231.4 309.8L233.0 314.3M262.3 315.9L253.9 310.4M258.6 310.8L253.9 310.4L256.2 314.6M285.4 314.2L276.8 312.1M281.1 311.0L276.8 312.1L280.1 315.1M309.6 314.0L298.6 312.3M303.1 310.7L298.6 312.3L302.4 315.2M332.4 314.0L321.8 312.4M326.4 310.8L321.8 312.4L325.7 315.2M356.1 312.3L344.1 314.0M347.9 311.2L344.1 314.0L348.6 315.6M378.2 312.4L368.0 313.9M371.8 311.1L368.0 313.9L372.5 315.5M400.0 312.0L392.2 314.4M395.1 311.5L392.2 314.4L396.2 315.1M422.6 310.9L415.6 315.4M417.6 311.8L415.6 315.4L419.8 315.1M444.5 309.8L439.7 316.5M440.2 312.4L439.7 316.5L443.4 314.7M468.0 309.6L462.2 316.7M463.1 312.2L462.2 316.7L466.4 314.9M490.4 310.0L485.8 316.3M486.4 312.5L485.8 316.3L489.3 314.6M513.2 309.6L509.0 316.7M509.2 312.6L509.0 316.7L512.5 314.6M537.0 310.4L531.2 315.9M532.5 312.1L531.2 315.9L535.1 314.8M559.0 311.5L555.2 314.9M556.1 312.4L555.2 314.9L557.7 314.3M582.0 312.4L578.2 313.9M579.5 312.4L578.2 313.9L580.2 314.1M606.3 312.5L599.9 313.8M602.4 311.7L599.9 313.8L603.0 314.7M630.1 313.0L622.1 313.3M625.6 311.3L622.1 313.3L625.7 315.0M653.4 312.6L644.8 313.7M648.3 311.2L644.8 313.7L648.9 315.2M676.5 312.1L667.7 314.3M671.1 311.2L667.7 314.3L672.1 315.4M156.9 336.9L152.5 328.3M156.4 331.0L152.5 328.3L152.4 333.1M180.3 335.9L175.1 329.2M179.0 331.0L175.1 329.2L175.8 333.4M203.8 334.5L197.6 330.7M201.2 330.9L197.6 330.7L199.4 333.8M226.7 335.4L220.7 329.8M224.7 330.8L220.7 329.8L222.0 333.7M250.7 336.5L242.7 328.7M247.3 330.1L242.7 328.7L244.2 333.3M273.6 335.0L265.8 330.2M270.4 330.5L265.8 330.2L268.1 334.1M297.2 333.6L288.2 331.6M292.6 330.4L288.2 331.6L291.7 334.6M319.9 331.6L311.5 333.6M314.7 330.7L311.5 333.6L315.7 334.7M342.8 331.3L334.6 333.9M337.6 330.8L334.6 333.9L338.8 334.7M366.3 331.1L357.1 334.0M360.4 330.6L357.1 334.0L361.8 334.9M388.6 331.5L380.8 333.6M383.8 330.9L380.8 333.6L384.7 334.5M410.4 330.7L405.0 334.5M406.5 331.6L405.0 334.5L408.3 334.1M434.6 328.9L426.8 336.3M428.3 331.7L426.8 336.3L431.4 335.0M455.2 329.8L452.2 335.4M452.2 332.2L452.2 335.4L454.8 333.6M479.3 327.6L474.1 337.6M474.0 332.8L474.1 337.6L478.0 334.9M501.6 330.2L497.8 335.0M498.4 332.0L497.8 335.0L500.6 333.7M524.8 328.1L520.6 337.1M520.4 332.3L520.6 337.1L524.5 334.2M547.6 329.7L543.8 335.5M544.1 332.0L543.8 335.5L546.8 333.8M570.9 330.6L566.5 334.6M567.5 331.8L566.5 334.6L569.4 333.8M595.1 332.5L588.3 332.7M591.2 331.0L588.3 332.7L591.4 334.2M617.9 332.2L611.5 333.0M614.1 331.1L611.5 333.0L614.5 334.2M641.4 330.6L634.0 334.6M636.3 331.1L634.0 334.6L638.2 334.6M664.2 331.5L657.2 333.7M659.8 331.1L657.2 333.7L660.8 334.4M687.5 331.1L679.9 334.1M682.6 331.0L679.9 334.1L683.9 334.5M169.1 355.7L163.1 348.3M167.5 350.2L163.1 348.3L164.0 353.0M192.5 354.1L185.7 350.0M189.7 350.2L185.7 350.0L187.7 353.4M215.5 355.2L208.7 348.8M213.2 350.1L208.7 348.8L210.2 353.2M239.6 355.7L230.6 348.4M235.3 349.3L230.6 348.4L232.5 352.8M262.9 353.3L253.3 350.7M258.0 349.7L253.3 350.7L256.8 354.0M285.6 353.7L276.6 350.4M281.3 349.7L276.6 350.4L279.8 353.9M309.0 352.3L299.2 351.8M303.5 349.7L299.2 351.8L303.3 354.2M331.8 351.5L322.4 352.5M326.3 349.9L322.4 352.5L326.8 354.3M355.0 350.4L345.2 353.6M348.6 350.2L345.2 353.6L350.0 354.4M376.5 350.5L369.7 353.5M372.0 350.6L369.7 353.5L373.4 353.8M400.4 349.0L391.8 355.0M394.0 350.7L391.8 355.0L396.6 354.4M423.4 349.6L414.8 354.4M417.4 350.4L414.8 354.4L419.6 354.3M445.3 348.8L438.9 355.3M440.2 350.9L438.9 355.3L443.2 353.9M467.8 349.0L462.4 355.0M463.4 351.1L462.4 355.0L466.2 353.6M489.9 349.0L486.3 355.1M486.5 351.5L486.3 355.1L489.3 353.2M513.5 349.2L508.7 354.8M509.5 351.2L508.7 354.8L512.1 353.5M535.5 349.7L532.7 354.3M532.8 351.6L532.7 354.3L535.0 353.0M559.4 349.4L554.8 354.6M555.6 351.3L554.8 354.6L558.1 353.4M582.9 350.9L577.3 353.1M579.3 350.8L577.3 353.1L580.3 353.4M606.8 350.8L599.4 353.2M602.1 350.4L599.4 353.2L603.2 353.9M630.0 351.4L622.2 352.6M625.4 350.3L622.2 352.6L625.9 353.9M652.1 351.0L646.1 353.0M648.3 350.7L646.1 353.0L649.2 353.5M674.8 350.2L669.4 353.8M670.9 351.0L669.4 353.8L672.6 353.5M158.9 373.8L150.5 369.1M155.3 369.2L150.5 369.1L153.1 373.1M181.0 374.8L174.4 368.1M178.9 369.5L174.4 368.1L175.8 372.6M205.3 374.5L196.1 368.4M200.9 368.9L196.1 368.4L198.4 372.6M227.8 373.5L219.6 369.4M224.2 369.3L219.6 369.4L222.3 373.2M251.1 373.9L242.3 369.0M247.1 369.1L242.3 369.0L244.9 373.0M274.5 372.1L264.9 370.8M269.4 369.1L264.9 370.8L268.8 373.6M296.6 371.7L288.8 371.2M292.3 369.6L288.8 371.2L292.1 373.3M320.9 370.4L310.5 372.5M314.2 369.5L310.5 372.5L315.1 373.9M342.9 369.9L334.5 373.0M337.5 369.6L334.5 373.0L338.9 373.6M365.0 369.1L358.4 373.8M360.2 370.2L358.4 373.8L362.4 373.3M389.3 369.5L380.1 373.4M383.2 369.6L380.1 373.4L384.9 373.8M410.6 368.5L404.8 374.4M406.0 370.4L404.8 374.4L408.7 373.2M433.5 368.4L427.9 374.5M428.9 370.5L427.9 374.5L431.8 373.1M457.2 367.8L450.2 375.1M451.5 370.5L450.2 375.1L454.8 373.6M478.1 367.4L475.3 375.5M474.6 371.3L475.3 375.5L478.4 372.6M501.9 367.4L497.5 375.5M497.6 370.9L497.5 375.5L501.3 372.9M524.1 367.1L521.3 375.8M520.5 371.3L521.3 375.8L524.6 372.6M547.2 367.3L544.2 375.6M543.6 371.2L544.2 375.6L547.5 372.6M571.4 369.8L566.0 373.1M567.6 370.4L566.0 373.1L569.1 372.9M595.1 370.3L588.3 372.6M590.8 370.0L588.3 372.6L591.9 373.2M618.4 369.9L611.0 373.0M613.6 369.9L611.0 373.0L615.0 373.4M641.2 370.3L634.2 372.6M636.7 370.0L634.2 372.6L637.8 373.2M663.9 369.7L657.5 373.2M659.5 370.2L657.5 373.2L661.2 373.1M687.7 369.2L679.7 373.7M682.2 369.8L679.7 373.7L684.3 373.6M170.3 392.0L161.9 389.8M166.1 388.8L161.9 389.8L165.1 392.7M192.8 392.9L185.4 388.9M189.6 388.9L185.4 388.9L187.7 392.4M216.7 392.9L207.5 388.9M212.3 388.5L207.5 388.9L210.5 392.6M239.0 392.8L231.2 389.0M235.5 388.8L231.2 389.0L233.7 392.5M262.2 393.2L254.0 388.6M258.7 388.7L254.0 388.6L256.5 392.6M285.5 390.7L276.7 391.1M280.5 388.9L276.7 391.1L280.7 393.0M308.3 390.2L299.9 391.5M303.3 389.0L299.9 391.5L303.9 392.9M330.8 389.9L323.4 391.9M326.2 389.2L323.4 391.9L327.1 392.7M354.7 388.9L345.5 392.9M348.5 389.1L345.5 392.9L350.2 393.3M376.4 388.2L369.8 393.5M371.5 389.7L369.8 393.5L374.0 392.7M399.9 387.9L392.3 393.9M394.2 389.5L392.3 393.9L397.1 393.0M422.1 388.3L416.1 393.4M417.5 389.8L416.1 393.4L419.9 392.6M446.5 387.8L437.7 393.9M439.9 389.7L437.7 393.9L442.4 393.4M468.4 387.5L461.8 394.3M463.1 389.7L461.8 394.3L466.3 392.8M490.7 387.8L485.5 394.0M486.3 390.0L485.5 394.0L489.2 392.5M512.3 387.4L509.9 394.4M509.3 390.7L509.9 394.4L512.6 391.9M536.0 387.2L532.2 394.6M532.2 390.4L532.2 394.6L535.6 392.2M559.9 389.2L554.3 392.5M556.0 389.7L554.3 392.5L557.5 392.4M582.7 390.5L577.5 391.2M579.6 389.7L577.5 391.2L579.9 392.2M607.4 389.1L598.8 392.7M601.7 389.1L598.8 392.7L603.4 393.1M629.3 389.1L622.9 392.6M624.9 389.6L622.9 392.6L626.6 392.6M652.1 388.6L646.1 393.2M647.7 389.8L646.1 393.2L649.8 392.5M675.7 389.1L668.5 392.6M670.9 389.4L668.5 392.6L672.5 392.8M159.3 411.9L150.1 408.8M154.9 408.0L150.1 408.8L153.4 412.3M181.5 412.2L173.9 408.4M178.1 408.3L173.9 408.4L176.4 411.9M204.4 410.1L197.0 410.5M200.2 408.6L197.0 410.5L200.4 412.1M228.7 410.9L218.7 409.7M223.2 408.0L218.7 409.7L222.7 412.5M250.8 410.4L242.6 410.2M246.3 408.4L242.6 410.2L246.2 412.2M274.7 409.7L264.7 410.9M268.6 408.2L264.7 410.9L269.2 412.6M296.7 409.7L288.7 411.0M291.9 408.5L288.7 411.0L292.5 412.3M320.1 408.7L311.3 411.9M314.4 408.4L311.3 411.9L315.9 412.6M342.2 407.8L335.2 412.8M337.1 409.0L335.2 412.8L339.4 412.2M364.3 408.1L359.1 412.5M360.4 409.4L359.1 412.5L362.4 411.8M388.0 407.7L381.4 412.9M383.1 409.1L381.4 412.9L385.5 412.2M410.5 407.0L404.9 413.7M405.8 409.4L404.9 413.7L408.9 412.0M433.8 407.3L427.6 413.3M428.9 409.2L427.6 413.3L431.7 412.1M456.5 406.1L450.9 414.5M451.4 409.7L450.9 414.5L455.1 412.2M478.0 406.5L475.4 414.1M474.8 410.1L475.4 414.1L478.3 411.4M502.3 407.9L497.1 412.7M498.3 409.4L497.1 412.7L500.5 411.8M524.5 408.4L520.9 412.2M521.6 409.7L520.9 412.2L523.4 411.4M548.1 408.5L543.3 412.2M544.5 409.4L543.3 412.2L546.3 411.7M571.6 409.8L565.8 410.8M568.1 409.0L565.8 410.8L568.6 411.7M596.2 409.9L587.2 410.7M591.0 408.3L587.2 410.7L591.4 412.5M619.0 409.5L610.4 411.2M613.8 408.4L610.4 411.2L614.6 412.4M640.8 409.8L634.6 410.9M637.1 408.9L634.6 410.9L637.6 411.8M664.0 409.0L657.4 411.6M659.7 408.9L657.4 411.6L660.9 412.0M685.9 408.6L681.5 412.0M682.6 409.5L681.5 412.0L684.2 411.5M171.1 430.7L161.1 428.7M165.7 427.4L161.1 428.7L164.8 431.8M192.9 431.1L185.3 428.4M189.3 427.8L185.3 428.4L188.0 431.4M216.7 430.2L207.5 429.3M211.8 427.5L207.5 429.3L211.4 431.8M239.4 429.8L230.8 429.7M234.6 427.7L230.8 429.7L234.6 431.8M263.5 429.7L252.7 429.8M256.9 427.5L252.7 429.8L256.9 432.0M286.6 429.8L275.6 429.7M279.9 427.5L275.6 429.7L279.9 432.0M308.7 428.9L299.5 430.5M303.2 427.7L299.5 430.5L303.9 432.0M331.4 426.5L322.8 433.0M324.8 428.7L322.8 433.0L327.5 432.2M353.7 427.9L346.5 431.5M348.8 428.2L346.5 431.5L350.5 431.7M378.0 427.5L368.2 431.9M371.1 428.1L368.2 431.9L373.0 432.3M400.3 427.9L391.9 431.6M394.7 428.0L391.9 431.6L396.5 431.9M421.6 426.4L416.6 433.0M417.3 428.9L416.6 433.0L420.4 431.3M444.3 424.0L439.9 435.5M439.3 430.7L439.9 435.5L443.5 432.3M467.2 426.1L463.0 433.4M463.2 429.2L463.0 433.4L466.6 431.1M490.2 427.6L486.0 431.9M486.9 429.0L486.0 431.9L488.9 431.0M513.9 428.8L508.3 430.6M510.4 428.5L508.3 430.6L511.2 431.1M536.1 429.4L532.1 430.1M533.7 428.8L532.1 430.1L534.0 430.7M560.9 430.1L553.3 429.4M556.8 427.9L553.3 429.4L556.5 431.5M584.2 429.6L576.0 429.9M579.6 427.8L576.0 429.9L579.7 431.7M606.3 429.1L599.9 430.4M602.4 428.3L599.9 430.4L603.0 431.3M628.7 429.1L623.5 430.4M625.5 428.6L623.5 430.4L626.1 431.1M651.8 428.5L646.4 431.0M648.2 428.6L646.4 431.0L649.4 431.1M674.8 429.6L669.4 429.8M671.7 428.5L669.4 429.8L671.8 431.0M158.1 450.9L151.3 447.4M155.1 447.4L151.3 447.4L153.5 450.5M182.3 449.6L173.1 448.7M177.4 446.9L173.1 448.7L176.9 451.3M205.1 448.8L196.3 449.5M200.0 447.1L196.3 449.5L200.3 451.3M228.1 449.9L219.3 448.4M223.5 447.0L219.3 448.4L222.8 451.1M251.4 449.1L242.0 449.2M246.1 447.0L242.0 449.2L246.2 451.4M273.5 447.6L265.9 450.8M268.5 447.6L265.9 450.8L270.0 451.1M296.5 448.3L288.9 450.0M291.8 447.5L288.9 450.0L292.7 451.1M319.5 447.1L311.9 451.2M314.3 447.6L311.9 451.2L316.2 451.2M342.6 446.4L334.8 451.9M337.0 447.7L334.8 451.9L339.5 451.3M365.0 445.9L358.4 452.5M359.8 448.0L358.4 452.5L362.9 451.1M388.6 445.9L380.8 452.5M382.6 448.0L380.8 452.5L385.5 451.4M411.0 444.8L404.4 453.6M405.1 448.8L404.4 453.6L408.7 451.5M434.0 445.3L427.4 453.0M428.4 448.3L427.4 453.0L431.9 451.3M456.3 444.8L451.1 453.6M451.3 448.8L451.1 453.6L455.2 451.1M476.2 443.7L477.2 454.7M474.6 450.7L477.2 454.7L479.1 450.2M503.0 446.4L496.4 451.9M498.0 447.9L496.4 451.9L500.6 451.0M524.7 449.8L520.7 448.5M522.8 448.2L520.7 448.5L522.2 450.0M550.1 448.7L541.3 449.7M545.0 447.2L541.3 449.7L545.4 451.3M572.2 449.3L565.2 449.1M568.3 447.5L565.2 449.1L568.2 450.8M595.3 448.4L588.1 450.0M590.9 447.6L588.1 450.0L591.7 451.0M617.1 448.2L612.3 450.1M614.0 448.2L612.3 450.1L614.9 450.4M640.9 448.2L634.5 450.2M636.9 447.8L634.5 450.2L637.8 450.8M663.4 449.0L658.0 449.4M660.3 447.9L658.0 449.4L660.5 450.4M686.0 448.3L681.4 450.1M683.0 448.2L681.4 450.1L683.8 450.4M170.0 469.1L162.2 468.1M165.9 466.7L162.2 468.1L165.4 470.4M192.6 468.6L185.6 468.6M188.7 467.0L185.6 468.6L188.7 470.3M215.1 469.0L209.1 468.2M212.0 467.1L209.1 468.2L211.5 470.0M240.0 468.5L230.2 468.7M234.4 466.4L230.2 468.7L234.5 470.9M262.9 467.8L253.3 469.4M257.1 466.5L253.3 469.4L257.8 470.9M285.6 468.1L276.6 469.1M280.3 466.5L276.6 469.1L280.8 470.8M307.2 467.4L301.0 469.8M303.2 467.3L301.0 469.8L304.3 470.2M330.2 467.0L324.0 470.2M326.0 467.3L324.0 470.2L327.5 470.3M352.9 464.2L347.4 473.0M347.7 468.2L347.4 473.0L351.5 470.6M375.9 466.4L370.4 470.8M371.7 467.6L370.4 470.8L373.8 470.1M398.9 465.9L393.4 471.4M394.5 467.6L393.4 471.4L397.1 470.2M422.4 464.8L415.8 472.5M416.8 467.8L415.8 472.5L420.3 470.7M443.8 464.8L440.5 472.5M440.1 468.3L440.5 472.5L443.7 469.8M465.6 462.1L464.6 475.1M462.7 470.7L464.6 475.1L467.2 471.0M492.0 465.9L484.2 471.4M486.4 467.1L484.2 471.4L488.9 470.7M514.3 468.3L507.9 468.9M510.6 467.1L507.9 468.9L510.9 470.1M536.8 468.2L531.4 469.0M533.6 467.4L531.4 469.0L534.0 469.9M559.8 467.9L554.4 469.3M556.4 467.4L554.4 469.3L557.1 470.0M583.4 468.2L576.8 469.0M579.5 467.1L576.8 469.0L579.9 470.2M606.5 468.1L599.7 469.1M602.5 467.1L599.7 469.1L602.9 470.2M629.0 468.3L623.2 468.9M625.6 467.3L623.2 468.9L625.9 470.0M653.5 466.9L644.7 470.3M647.8 466.7L644.7 470.3L649.4 470.9M674.9 467.3L669.3 469.9M671.2 467.4L669.3 469.9L672.4 470.1M159.1 488.5L150.3 487.6M154.4 485.9L150.3 487.6L154.0 490.0M181.4 488.3L174.0 487.8M177.4 486.3L174.0 487.8L177.2 489.8M204.1 488.1L197.3 487.9M200.4 486.4L197.3 487.9L200.3 489.6M228.3 487.7L219.1 488.3M223.0 485.9L219.1 488.3L223.3 490.2M251.3 487.8L242.1 488.3M246.1 485.9L242.1 488.3L246.3 490.2M274.6 488.1L264.8 487.9M269.1 485.8L264.8 487.9L269.0 490.3M295.8 488.4L289.6 487.6M292.5 486.5L289.6 487.6L292.1 489.5M318.7 487.9L312.7 488.2M315.3 486.6L312.7 488.2L315.4 489.5M342.0 489.1L335.4 486.9M338.8 486.4L335.4 486.9L337.8 489.5M363.9 488.5L359.5 487.5M361.7 486.9L359.5 487.5L361.2 489.0M388.0 486.4L381.4 489.7M383.5 486.7L381.4 489.7L385.1 489.8M410.4 483.6L404.9 492.4M405.3 487.6L404.9 492.4L409.1 490.0M433.4 483.6L427.9 492.4M428.3 487.6L427.9 492.4L432.1 490.0M455.7 483.6L451.7 492.4M451.4 487.6L451.7 492.4L455.5 489.5M476.7 485.3L476.7 490.8M475.4 488.4L476.7 490.8L478.0 488.4M502.4 489.7L496.9 486.4M500.2 486.5L496.9 486.4L498.6 489.1M525.6 488.0L519.8 488.1M522.3 486.7L519.8 488.1L522.4 489.4M548.4 487.6L543.0 488.5M545.2 486.8L543.0 488.5L545.6 489.4M571.0 488.1L566.4 488.0M568.5 486.9L566.4 488.0L568.4 489.1M594.8 487.3L588.6 488.7M591.0 486.7L588.6 488.7L591.7 489.6M617.5 486.8L611.9 489.2M613.8 486.8L611.9 489.2L614.9 489.5M639.9 486.8L635.5 489.3M636.9 487.2L635.5 489.3L638.0 489.2M664.2 486.8L657.2 489.3M659.7 486.6L657.2 489.3L660.9 489.8M686.2 486.8L681.2 489.3M682.8 487.0L681.2 489.3L684.0 489.4M169.4 507.4L162.8 507.6M165.7 505.9L162.8 507.6L165.8 509.0M193.0 507.7L185.2 507.2M188.8 505.6L185.2 507.2L188.5 509.3M216.1 506.8L208.1 508.1M211.3 505.7L208.1 508.1L212.0 509.4M239.3 507.6L230.9 507.4M234.7 505.5L230.9 507.4L234.6 509.4M262.4 507.0L253.8 507.9M257.4 505.5L253.8 507.9L257.8 509.5M285.3 508.2L276.9 506.8M280.9 505.4L276.9 506.8L280.3 509.3M306.4 507.4L301.8 507.6M303.8 506.4L301.8 507.6L303.9 508.6M329.6 507.6L324.6 507.3M326.9 506.3L324.6 507.3L326.7 508.6M350.6 509.7L349.6 505.3M351.1 507.0L349.6 505.3L349.0 507.4M374.8 509.1L371.5 505.8M373.7 506.5L371.5 505.8L372.1 508.0M396.9 509.1L395.4 505.8M396.8 506.9L395.4 505.8L395.2 507.6M419.6 505.3L418.6 509.7M418.0 507.5L418.6 509.7L420.1 508.0M446.0 506.4L438.2 508.6M441.1 505.8L438.2 508.6L442.2 509.4M467.9 506.4L462.4 508.6M464.3 506.3L462.4 508.6L465.3 508.9M491.4 509.7L484.8 505.3M488.7 505.7L484.8 505.3L486.7 508.8M513.9 507.9L508.3 507.0M511.0 506.1L508.3 507.0L510.6 508.7M536.8 507.7L531.4 507.2M533.9 506.2L531.4 507.2L533.7 508.7M558.7 507.6L555.5 507.3M557.0 506.7L555.5 507.3L556.8 508.2M582.6 507.5L577.6 507.4M579.8 506.3L577.6 507.4L579.8 508.6M605.6 505.6L600.6 509.3M602.0 506.5L600.6 509.3L603.7 508.9M629.1 506.9L623.1 508.0M625.5 506.1L623.1 508.0L626.0 508.9M652.1 505.6L646.1 509.3M647.9 506.3L646.1 509.3L649.6 509.1M675.6 505.5L668.6 509.4M670.8 506.1L668.6 509.4L672.6 509.3M158.3 526.5L151.1 527.3M154.1 525.3L151.1 527.3L154.5 528.6M181.8 526.8L173.6 527.0M177.2 525.0L173.6 527.0L177.2 528.8M204.9 526.9L196.5 526.9M200.2 524.9L196.5 526.9L200.2 528.9M227.2 525.6L220.2 528.2M222.7 525.4L220.2 528.2L223.9 528.7M251.1 526.6L242.3 527.2M246.0 524.9L242.3 527.2L246.3 529.0M274.7 527.0L264.7 526.7M269.0 524.6L264.7 526.7L268.9 529.1M295.9 526.9L289.5 526.9M292.3 525.4L289.5 526.9L292.3 528.4M318.5 526.9L312.9 526.9M315.4 525.6L312.9 526.9L315.4 528.2M342.0 528.5L335.4 525.2M339.1 525.1L335.4 525.2L337.5 528.2M362.7 527.4L360.7 526.4M361.8 526.4L360.7 526.4L361.3 527.3M380.3 525.8L389.1 528.0M384.7 529.1L389.1 528.0L385.7 525.0M406.1 525.2L409.3 528.5M407.1 527.9L409.3 528.5L408.7 526.3M430.2 525.9L431.2 527.9M430.3 527.2L431.2 527.9L431.2 526.8M455.9 528.5L451.5 525.2M454.2 525.7L451.5 525.2L452.7 527.7M480.6 528.5L472.8 525.2M477.0 524.9L472.8 525.2L475.5 528.5M501.2 527.9L498.2 525.9M500.0 526.1L498.2 525.9L499.1 527.5M526.0 526.4L519.4 527.4M522.1 525.4L519.4 527.4L522.6 528.5M548.3 526.2L543.1 527.6M545.1 525.7L543.1 527.6L545.7 528.2M570.7 526.0L566.7 527.7M568.1 526.1L566.7 527.7L568.9 527.9M594.5 525.8L588.9 528.0M590.8 525.7L588.9 528.0L591.9 528.3M616.7 524.9L612.7 528.9M613.5 526.2L612.7 528.9L615.4 528.1M639.9 525.4L635.5 528.4M636.8 526.0L635.5 528.4L638.1 528.1M663.3 525.3L658.1 528.5M659.6 525.9L658.1 528.5L661.1 528.3M687.1 525.5L680.3 528.3M682.7 525.4L680.3 528.3L683.9 528.7M170.1 544.9L162.1 547.8M164.9 544.6L162.1 547.8L166.3 548.4M193.5 545.3L184.7 547.3M188.1 544.4L184.7 547.3L189.1 548.5M215.3 545.8L208.9 546.8M211.5 544.9L208.9 546.8L212.0 547.9M239.1 545.9L231.1 546.7M234.4 544.5L231.1 546.7L234.8 548.2M262.7 545.5L253.5 547.1M257.2 544.3L253.5 547.1L258.0 548.6M284.6 546.3L277.6 546.4M280.7 544.7L277.6 546.4L280.7 548.0M308.1 545.4L300.1 547.2M303.2 544.5L300.1 547.2L304.1 548.3M329.8 545.7L324.4 546.9M326.5 545.1L324.4 546.9L327.1 547.7M352.9 547.4L347.4 545.2M350.3 544.9L347.4 545.2L349.3 547.5M370.9 544.7L375.3 548.0M372.6 547.5L375.3 548.0L374.1 545.5M392.8 543.6L399.4 549.1M395.2 548.2L399.4 549.1L397.8 545.1M422.4 545.8L415.8 546.8M418.5 544.8L415.8 546.8L418.9 547.9M443.2 548.0L441.0 544.7M442.7 545.6L441.0 544.7L441.2 546.6M469.0 548.0L461.2 544.7M465.4 544.3L461.2 544.7L463.9 547.9M493.1 546.8L483.1 545.8M487.5 544.0L483.1 545.8L487.1 548.5M514.5 545.7L507.7 547.0M510.4 544.8L507.7 547.0L511.0 548.0M537.1 545.9L531.1 546.7M533.6 545.0L531.1 546.7L533.9 547.8M559.8 546.7L554.4 546.0M556.9 545.0L554.4 546.0L556.6 547.5M582.6 546.6L577.6 546.0M579.9 545.1L577.6 546.0L579.7 547.5M604.5 544.9L601.7 547.8M602.3 545.8L601.7 547.8L603.6 547.1M628.2 545.0L624.0 547.7M625.2 545.5L624.0 547.7L626.5 547.5M651.1 544.7L647.1 547.9M648.1 545.5L647.1 547.9L649.6 547.5M674.1 544.9L670.1 547.7M671.2 545.6L670.1 547.7L672.5 547.4M158.8 565.1L150.6 566.4M153.9 563.9L150.6 566.4L154.5 567.7M182.2 564.7L173.2 566.8M176.7 563.7L173.2 566.8L177.7 568.0M204.8 564.7L196.6 566.8M199.7 564.0L196.6 566.8L200.7 567.8M227.2 564.7L220.2 566.8M222.8 564.2L220.2 566.8L223.8 567.5M251.7 564.6L241.7 566.9M245.3 563.8L241.7 566.9L246.4 568.1M273.7 564.0L265.7 567.5M268.4 564.1L265.7 567.5L270.1 567.8M296.2 565.5L289.2 566.0M292.2 564.1L289.2 566.0L292.4 567.4M319.3 564.8L312.1 566.7M314.8 564.2L312.1 566.7L315.7 567.5M342.0 563.5L335.4 568.0M337.3 564.5L335.4 568.0L339.3 567.6M362.7 566.0L360.7 565.5M361.7 565.3L360.7 565.5L361.5 566.2M383.4 561.4L386.0 570.1M382.8 566.9L386.0 570.1L386.9 565.7M406.1 563.0L409.3 568.5M406.6 566.8L409.3 568.5L409.2 565.3M435.7 566.2L425.7 565.2M430.1 563.4L425.7 565.2L429.7 567.9M458.7 565.8L448.7 565.8M452.9 563.5L448.7 565.8L452.9 568.0M481.1 565.8L472.3 565.8M476.2 563.7L472.3 565.8L476.2 567.8M503.0 563.5L496.4 568.0M498.3 564.5L496.4 568.0L500.3 567.6M524.9 564.9L520.5 566.6M522.0 564.8L520.5 566.6L522.9 566.9M548.2 564.3L543.2 567.2M544.7 564.8L543.2 567.2L546.1 567.1M570.2 565.1L567.2 566.4M568.2 565.1L567.2 566.4L568.8 566.5M594.2 565.5L589.2 566.0M591.3 564.6L589.2 566.0L591.5 567.0M617.3 563.8L612.1 567.7M613.5 564.8L612.1 567.7L615.3 567.2M638.4 564.2L637.0 567.3M636.9 565.6L637.0 567.3L638.3 566.3M661.8 564.6L659.6 566.9M660.0 565.4L659.6 566.9L661.1 566.4M685.4 563.7L682.0 567.8M682.6 565.2L682.0 567.8L684.5 566.8M169.9 583.7L162.3 586.7M164.9 583.6L162.3 586.7L166.4 587.1M194.0 584.4L184.2 585.9M188.1 583.1L184.2 585.9L188.7 587.5M216.7 584.1L207.5 586.2M211.1 583.2L207.5 586.2L212.1 587.4M239.8 584.4L230.4 586.0M234.2 583.1L230.4 586.0L234.9 587.5M263.1 584.2L253.1 586.2M256.8 583.1L253.1 586.2L257.7 587.6M285.2 584.3L277.0 586.0M280.2 583.4L277.0 586.0L281.0 587.2M308.2 584.7L300.0 585.7M303.4 583.3L300.0 585.7L303.8 587.2M329.7 584.6L324.5 585.8M326.5 584.0L324.5 585.8L327.1 586.5M354.5 584.1L345.7 586.3M349.1 583.2L345.7 586.3L350.1 587.4M375.9 582.4L370.4 587.9M371.5 584.2L370.4 587.9L374.1 586.8M396.1 581.9L396.1 588.5M394.6 585.6L396.1 588.5L397.6 585.6M417.5 581.3L420.8 589.0M417.5 586.4L420.8 589.0L421.1 584.9M444.9 584.1L439.4 586.3M441.3 584.0L439.4 586.3L442.3 586.6M469.0 584.1L461.2 586.3M464.1 583.5L461.2 586.3L465.2 587.1M491.4 583.0L484.8 587.4M486.7 583.9L484.8 587.4L488.7 587.0M514.5 584.2L507.7 586.1M510.3 583.7L507.7 586.1L511.1 586.9M536.6 584.3L531.6 586.1M533.4 584.1L531.6 586.1L534.2 586.5M559.6 584.6L554.6 585.7M556.5 584.1L554.6 585.7L557.1 586.4M582.3 583.9L577.9 586.4M579.2 584.3L577.9 586.4L580.4 586.4M604.4 584.0L601.8 586.3M602.4 584.7L601.8 586.3L603.5 585.9M627.6 584.0L624.6 586.4M625.3 584.6L624.6 586.4L626.5 586.0M650.7 584.4L647.5 586.0M648.6 584.5L647.5 586.0L649.3 586.0M673.1 583.4L671.1 587.0M671.1 584.9L671.1 587.0L672.8 585.9M157.9 603.4L151.5 605.8M153.8 603.2L151.5 605.8L154.9 606.3M181.6 603.6L173.8 605.6M176.8 602.9L173.8 605.6L177.7 606.6M204.8 603.3L196.6 606.0M199.6 602.9L196.6 606.0L200.9 606.7M227.9 603.4L219.5 605.8M222.7 602.8L219.5 605.8L223.8 606.7M251.2 603.8L242.2 605.4M245.8 602.6L242.2 605.4L246.5 606.8M274.0 603.9L265.4 605.3M268.9 602.7L265.4 605.3L269.5 606.7M297.0 603.8L288.4 605.4M291.8 602.7L288.4 605.4L292.6 606.7M319.1 604.8L312.3 604.4M315.4 603.0L312.3 604.4L315.2 606.2M341.9 603.4L335.5 605.8M337.8 603.3L335.5 605.8L338.9 606.2M362.7 603.9L360.7 605.3M361.3 604.2L360.7 605.3L361.9 605.2M385.2 602.5L384.2 606.7M383.7 604.6L384.2 606.7L385.6 605.1M408.3 603.0L407.1 606.2M406.9 604.5L407.1 606.2L408.4 605.1M432.4 603.5L429.0 605.7M430.0 604.0L429.0 605.7L431.0 605.5M455.9 605.8L451.5 603.4M454.0 603.4L451.5 603.4L452.9 605.5M479.8 604.0L473.6 605.3M476.0 603.2L473.6 605.3L476.6 606.2M503.1 604.8L496.3 604.5M499.4 603.0L496.3 604.5L499.2 606.2M525.0 603.0L520.4 606.2M521.7 603.7L520.4 606.2L523.2 605.9M547.3 604.5L544.1 604.7M545.5 603.9L544.1 604.7L545.5 605.4M571.5 603.6L565.9 605.6M567.9 603.4L565.9 605.6L568.8 606.0M593.9 603.4L589.5 605.9M590.9 603.7L589.5 605.9L592.0 605.8M616.4 602.4L613.0 606.8M613.5 604.1L613.0 606.8L615.5 605.7M639.3 603.1L636.1 606.1M636.8 604.0L636.1 606.1L638.2 605.5M662.1 602.5L659.3 606.7M659.5 604.2L659.3 606.7L661.5 605.5M685.8 602.9L681.6 606.3M682.6 603.8L681.6 606.3L684.3 605.8"/></g>
<line x1="165" y1="604.5" x2="165" y2="591" stroke="#000" stroke-width="1"/><line x1="278.3" y1="604.5" x2="278.3" y2="591" stroke="#000" stroke-width="1"/><line x1="392" y1="604.5" x2="392" y2="591" stroke="#000" stroke-width="1"/><line x1="505" y1="604.5" x2="505" y2="591" stroke="#000" stroke-width="1"/><line x1="618.5" y1="604.5" x2="618.5" y2="591" stroke="#000" stroke-width="1"/><line x1="188.4" y1="76.5" x2="188.4" y2="90" stroke="#000" stroke-width="1"/><line x1="290.6" y1="76.5" x2="290.6" y2="90" stroke="#000" stroke-width="1"/><line x1="393.6" y1="76.5" x2="393.6" y2="90" stroke="#000" stroke-width="1"/><line x1="496.1" y1="76.5" x2="496.1" y2="90" stroke="#000" stroke-width="1"/><line x1="598.6" y1="76.5" x2="598.6" y2="90" stroke="#000" stroke-width="1"/><line x1="155.5" y1="104.7" x2="169" y2="104.7" stroke="#000" stroke-width="1"/><line x1="683.5" y1="104.7" x2="670" y2="104.7" stroke="#000" stroke-width="1"/><line x1="155.5" y1="235.6" x2="169" y2="235.6" stroke="#000" stroke-width="1"/><line x1="683.5" y1="235.6" x2="670" y2="235.6" stroke="#000" stroke-width="1"/><line x1="155.5" y1="366.7" x2="169" y2="366.7" stroke="#000" stroke-width="1"/><line x1="683.5" y1="366.7" x2="670" y2="366.7" stroke="#000" stroke-width="1"/><line x1="155.5" y1="497.9" x2="169" y2="497.9" stroke="#000" stroke-width="1"/><line x1="683.5" y1="497.9" x2="670" y2="497.9" stroke="#000" stroke-width="1"/>
<rect x="155.5" y="76.5" width="528.0" height="528.0" fill="none" stroke="#000" stroke-width="1.2"/>
<rect x="656.6" y="76.5" width="28.9" height="38.8" fill="#fff" stroke="#000" stroke-width="0.6"/>
<path d="M659.8 101.6H682M677.6 99.7L682 101.6L677.6 103.5" fill="none" stroke="#000" stroke-width="0.55"/>
<rect x="163.00" y="628.8" width="46.85" height="13.7" fill="#0000ff"/><rect x="209.55" y="628.8" width="46.85" height="13.7" fill="#0096ff"/><rect x="256.09" y="628.8" width="46.85" height="13.7" fill="#00e6c8"/><rect x="302.64" y="628.8" width="46.85" height="13.7" fill="#00be3c"/><rect x="349.18" y="628.8" width="46.85" height="13.7" fill="#6ed214"/><rect x="395.73" y="628.8" width="46.85" height="13.7" fill="#ffff00"/><rect x="442.27" y="628.8" width="46.85" height="13.7" fill="#ffc800"/><rect x="488.82" y="628.8" width="46.85" height="13.7" fill="#ff8c00"/><rect x="535.36" y="628.8" width="46.85" height="13.7" fill="#ff2800"/><rect x="581.91" y="628.8" width="46.85" height="13.7" fill="#be0032"/><rect x="628.45" y="628.8" width="46.85" height="13.7" fill="#5a008c"/><line x1="209.55" y1="628.8" x2="209.55" y2="642.5" stroke="#000" stroke-width="0.6"/><line x1="256.09" y1="628.8" x2="256.09" y2="642.5" stroke="#000" stroke-width="0.6"/><line x1="302.64" y1="628.8" x2="302.64" y2="642.5" stroke="#000" stroke-width="0.6"/><line x1="349.18" y1="628.8" x2="349.18" y2="642.5" stroke="#000" stroke-width="0.6"/><line x1="395.73" y1="628.8" x2="395.73" y2="642.5" stroke="#000" stroke-width="0.6"/><line x1="442.27" y1="628.8" x2="442.27" y2="642.5" stroke="#000" stroke-width="0.6"/><line x1="488.82" y1="628.8" x2="488.82" y2="642.5" stroke="#000" stroke-width="0.6"/><line x1="535.36" y1="628.8" x2="535.36" y2="642.5" stroke="#000" stroke-width="0.6"/><line x1="581.91" y1="628.8" x2="581.91" y2="642.5" stroke="#000" stroke-width="0.6"/><line x1="628.45" y1="628.8" x2="628.45" y2="642.5" stroke="#000" stroke-width="0.6"/><rect x="163.0" y="628.8" width="512.0" height="13.7" fill="none" stroke="#000" stroke-width="0.6"/>
</svg>
<div class="t" style="left:307px;top:14.5px;font-size:14.3px;font-weight:bold;">2023/8/31/3UTC (21LT), Thursday</div>
<div class="t" style="left:307px;top:30px;font-size:14.3px;font-weight:bold;">FV3M0B2L1_GFS025</div>
<div class="t" style="left:155px;top:44px;font-size:24.2px;">surface temperature</div>
<div class="t" style="left:667.8px;top:48.2px;font-size:25.9px;transform:scaleX(0.89);transform-origin:0 0;">K</div>
<div class="t" style="left:667px;top:78.8px;font-size:14.8px;">8</div>
<div class="t" style="left:143px;top:613px;font-size:14.3px;">102°W</div>
<div class="t" style="left:373px;top:613px;font-size:14.3px;">98°W</div>
<div class="t" style="left:599px;top:613px;font-size:14.3px;">94°W</div>
<div class="t" style="left:114px;top:229.2px;font-size:14.3px;">36°N</div>
<div class="t" style="left:114px;top:491.4px;font-size:14.3px;">32°N</div>
<div class="t" style="left:189px;top:608px;font-size:14.4px;">Min= 287.6 Max= 306.4</div>
<div class="t" style="left:198px;top:646px;font-size:14.3px;">288</div>
<div class="t" style="left:291px;top:646px;font-size:14.3px;">292</div>
<div class="t" style="left:384px;top:646px;font-size:14.3px;">296</div>
<div class="t" style="left:477px;top:646px;font-size:14.3px;">300</div>
<div class="t" style="left:570px;top:646px;font-size:14.3px;">304</div>
</body></html>
